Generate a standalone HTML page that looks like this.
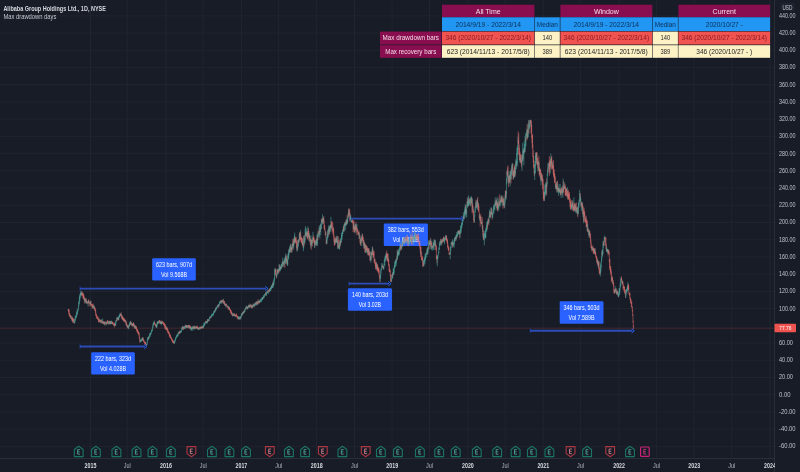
<!DOCTYPE html>
<html><head><meta charset="utf-8"><style>
html,body{margin:0;padding:0;background:#181c27;width:800px;height:472px;overflow:hidden;}
svg{display:block;font-family:"Liberation Sans",sans-serif;will-change:transform;}
</style></head><body>
<svg width="800" height="472" viewBox="0 0 800 472" font-family="Liberation Sans, sans-serif"><rect x="0" y="0" width="800" height="472" fill="#181c27"/>
<path d="M0 15.88H774M0 33.10H774M0 50.32H774M0 67.54H774M0 84.76H774M0 101.98H774M0 119.20H774M0 136.42H774M0 153.64H774M0 170.86H774M0 188.08H774M0 205.30H774M0 222.52H774M0 239.74H774M0 256.96H774M0 274.18H774M0 291.40H774M0 308.62H774M0 343.06H774M0 360.28H774M0 377.50H774M0 394.72H774M0 411.94H774M0 429.16H774M0 446.38H774M90.50 0V458M127.30 0V458M166.00 0V458M203.20 0V458M241.40 0V458M278.70 0V458M316.70 0V458M354.50 0V458M392.20 0V458M429.50 0V458M467.90 0V458M505.30 0V458M543.30 0V458M580.60 0V458M619.10 0V458M656.60 0V458M694.20 0V458M731.80 0V458M770.00 0V458" stroke="#20242f" stroke-width="1" fill="none"/>
<path d="M774.5 0V472M0 458.5H774" stroke="#2a2e39" stroke-width="1" fill="none"/>
<text x="779" y="17.78" font-size="7.0" fill="#c0c3cb" textLength="16.5" lengthAdjust="spacingAndGlyphs">440.00</text>
<text x="779" y="35.0" font-size="7.0" fill="#c0c3cb" textLength="16.5" lengthAdjust="spacingAndGlyphs">420.00</text>
<text x="779" y="52.22" font-size="7.0" fill="#c0c3cb" textLength="16.5" lengthAdjust="spacingAndGlyphs">400.00</text>
<text x="779" y="69.44" font-size="7.0" fill="#c0c3cb" textLength="16.5" lengthAdjust="spacingAndGlyphs">380.00</text>
<text x="779" y="86.66" font-size="7.0" fill="#c0c3cb" textLength="16.5" lengthAdjust="spacingAndGlyphs">360.00</text>
<text x="779" y="103.88" font-size="7.0" fill="#c0c3cb" textLength="16.5" lengthAdjust="spacingAndGlyphs">340.00</text>
<text x="779" y="121.1" font-size="7.0" fill="#c0c3cb" textLength="16.5" lengthAdjust="spacingAndGlyphs">320.00</text>
<text x="779" y="138.32" font-size="7.0" fill="#c0c3cb" textLength="16.5" lengthAdjust="spacingAndGlyphs">300.00</text>
<text x="779" y="155.54" font-size="7.0" fill="#c0c3cb" textLength="16.5" lengthAdjust="spacingAndGlyphs">280.00</text>
<text x="779" y="172.76" font-size="7.0" fill="#c0c3cb" textLength="16.5" lengthAdjust="spacingAndGlyphs">260.00</text>
<text x="779" y="189.98" font-size="7.0" fill="#c0c3cb" textLength="16.5" lengthAdjust="spacingAndGlyphs">240.00</text>
<text x="779" y="207.2" font-size="7.0" fill="#c0c3cb" textLength="16.5" lengthAdjust="spacingAndGlyphs">220.00</text>
<text x="779" y="224.42" font-size="7.0" fill="#c0c3cb" textLength="16.5" lengthAdjust="spacingAndGlyphs">200.00</text>
<text x="779" y="241.64" font-size="7.0" fill="#c0c3cb" textLength="16.5" lengthAdjust="spacingAndGlyphs">180.00</text>
<text x="779" y="258.86" font-size="7.0" fill="#c0c3cb" textLength="16.5" lengthAdjust="spacingAndGlyphs">160.00</text>
<text x="779" y="276.08" font-size="7.0" fill="#c0c3cb" textLength="16.5" lengthAdjust="spacingAndGlyphs">140.00</text>
<text x="779" y="293.3" font-size="7.0" fill="#c0c3cb" textLength="16.5" lengthAdjust="spacingAndGlyphs">120.00</text>
<text x="779" y="310.52" font-size="7.0" fill="#c0c3cb" textLength="16.5" lengthAdjust="spacingAndGlyphs">100.00</text>
<text x="779" y="344.96" font-size="7.0" fill="#c0c3cb" textLength="13.9" lengthAdjust="spacingAndGlyphs">60.00</text>
<text x="779" y="362.18" font-size="7.0" fill="#c0c3cb" textLength="13.9" lengthAdjust="spacingAndGlyphs">40.00</text>
<text x="779" y="379.4" font-size="7.0" fill="#c0c3cb" textLength="13.9" lengthAdjust="spacingAndGlyphs">20.00</text>
<text x="779" y="396.62" font-size="7.0" fill="#c0c3cb" textLength="11.5" lengthAdjust="spacingAndGlyphs">0.00</text>
<text x="779" y="413.84" font-size="7.0" fill="#c0c3cb" textLength="16.5" lengthAdjust="spacingAndGlyphs">-20.00</text>
<text x="779" y="431.06" font-size="7.0" fill="#c0c3cb" textLength="16.5" lengthAdjust="spacingAndGlyphs">-40.00</text>
<text x="779" y="448.28" font-size="7.0" fill="#c0c3cb" textLength="16.5" lengthAdjust="spacingAndGlyphs">-60.00</text>
<rect x="780.2" y="2.6" width="14.6" height="9" rx="1.5" fill="#1f2330"/>
<text x="787.4" y="9.5" font-size="6.3" fill="#c3c6ce" text-anchor="middle" textLength="10" lengthAdjust="spacingAndGlyphs">USD</text>
<text x="90.5" y="467.5" font-size="6.9" fill="#d8dae0" text-anchor="middle" textLength="11.8" lengthAdjust="spacingAndGlyphs" font-weight="bold">2015</text>
<text x="127.3" y="467.5" font-size="6.9" fill="#b2b5be" text-anchor="middle" textLength="7.0" lengthAdjust="spacingAndGlyphs">Jul</text>
<text x="166" y="467.5" font-size="6.9" fill="#d8dae0" text-anchor="middle" textLength="11.8" lengthAdjust="spacingAndGlyphs" font-weight="bold">2016</text>
<text x="203.2" y="467.5" font-size="6.9" fill="#b2b5be" text-anchor="middle" textLength="7.0" lengthAdjust="spacingAndGlyphs">Jul</text>
<text x="241.4" y="467.5" font-size="6.9" fill="#d8dae0" text-anchor="middle" textLength="11.8" lengthAdjust="spacingAndGlyphs" font-weight="bold">2017</text>
<text x="278.7" y="467.5" font-size="6.9" fill="#b2b5be" text-anchor="middle" textLength="7.0" lengthAdjust="spacingAndGlyphs">Jul</text>
<text x="316.7" y="467.5" font-size="6.9" fill="#d8dae0" text-anchor="middle" textLength="11.8" lengthAdjust="spacingAndGlyphs" font-weight="bold">2018</text>
<text x="354.5" y="467.5" font-size="6.9" fill="#b2b5be" text-anchor="middle" textLength="7.0" lengthAdjust="spacingAndGlyphs">Jul</text>
<text x="392.2" y="467.5" font-size="6.9" fill="#d8dae0" text-anchor="middle" textLength="11.8" lengthAdjust="spacingAndGlyphs" font-weight="bold">2019</text>
<text x="429.5" y="467.5" font-size="6.9" fill="#b2b5be" text-anchor="middle" textLength="7.0" lengthAdjust="spacingAndGlyphs">Jul</text>
<text x="467.9" y="467.5" font-size="6.9" fill="#d8dae0" text-anchor="middle" textLength="11.8" lengthAdjust="spacingAndGlyphs" font-weight="bold">2020</text>
<text x="505.3" y="467.5" font-size="6.9" fill="#b2b5be" text-anchor="middle" textLength="7.0" lengthAdjust="spacingAndGlyphs">Jul</text>
<text x="543.3" y="467.5" font-size="6.9" fill="#d8dae0" text-anchor="middle" textLength="11.8" lengthAdjust="spacingAndGlyphs" font-weight="bold">2021</text>
<text x="580.6" y="467.5" font-size="6.9" fill="#b2b5be" text-anchor="middle" textLength="7.0" lengthAdjust="spacingAndGlyphs">Jul</text>
<text x="619.1" y="467.5" font-size="6.9" fill="#d8dae0" text-anchor="middle" textLength="11.8" lengthAdjust="spacingAndGlyphs" font-weight="bold">2022</text>
<text x="656.6" y="467.5" font-size="6.9" fill="#b2b5be" text-anchor="middle" textLength="7.0" lengthAdjust="spacingAndGlyphs">Jul</text>
<text x="694.2" y="467.5" font-size="6.9" fill="#d8dae0" text-anchor="middle" textLength="11.8" lengthAdjust="spacingAndGlyphs" font-weight="bold">2023</text>
<text x="731.8" y="467.5" font-size="6.9" fill="#b2b5be" text-anchor="middle" textLength="7.0" lengthAdjust="spacingAndGlyphs">Jul</text>
<text x="770" y="467.5" font-size="6.9" fill="#d8dae0" text-anchor="middle" textLength="11.8" lengthAdjust="spacingAndGlyphs" font-weight="bold">2024</text>
<rect x="775" y="459" width="25" height="13" fill="#181c27"/>
<text x="3.4" y="10.5" font-size="6.9" fill="#d6d8df" textLength="102.5" lengthAdjust="spacingAndGlyphs" font-weight="bold">Alibaba Group Holdings Ltd., 1D, NYSE</text>
<text x="3.4" y="18.7" font-size="6.9" fill="#c3c6ce" textLength="53" lengthAdjust="spacingAndGlyphs">Max drawdown days</text>
<rect x="442.0" y="4.7" width="92.40" height="12.60" fill="#880e4f"/>
<text x="488.2" y="13.8" font-size="7.0" fill="#f6dbe8" text-anchor="middle">All Time</text>
<rect x="560.4" y="4.7" width="91.90" height="12.60" fill="#880e4f"/>
<text x="606.35" y="13.8" font-size="7.0" fill="#f6dbe8" text-anchor="middle">Window</text>
<rect x="678.4" y="4.7" width="91.70" height="12.60" fill="#880e4f"/>
<text x="724.25" y="13.8" font-size="7.0" fill="#f6dbe8" text-anchor="middle">Current</text>
<rect x="442.0" y="17.3" width="92.40" height="13.80" fill="#2196f3"/>
<rect x="534.9" y="17.3" width="24.90" height="13.80" fill="#2196f3"/>
<rect x="560.4" y="17.3" width="91.90" height="13.80" fill="#2196f3"/>
<rect x="652.8" y="17.3" width="25.10" height="13.80" fill="#2196f3"/>
<rect x="678.4" y="17.3" width="91.70" height="13.80" fill="#2196f3"/>
<text x="488.2" y="26.5" font-size="7.0" fill="#0e2f52" text-anchor="middle" textLength="65.5" lengthAdjust="spacingAndGlyphs">2014/9/19 - 2022/3/14</text>
<text x="547.35" y="26.5" font-size="7.0" fill="#0e2f52" text-anchor="middle" textLength="21" lengthAdjust="spacingAndGlyphs">Median</text>
<text x="606.35" y="26.5" font-size="7.0" fill="#0e2f52" text-anchor="middle" textLength="65.5" lengthAdjust="spacingAndGlyphs">2014/9/19 - 2022/3/14</text>
<text x="665.35" y="26.5" font-size="7.0" fill="#0e2f52" text-anchor="middle" textLength="21" lengthAdjust="spacingAndGlyphs">Median</text>
<text x="724.25" y="26.5" font-size="7.0" fill="#0e2f52" text-anchor="middle" textLength="37" lengthAdjust="spacingAndGlyphs">2020/10/27 -</text>
<rect x="380.0" y="31.6" width="61.50" height="12.90" fill="#880e4f"/>
<text x="410.75" y="40.35" font-size="7.0" fill="#f6dbe8" text-anchor="middle" textLength="56.5" lengthAdjust="spacingAndGlyphs">Max drawdown bars</text>
<rect x="442.0" y="31.6" width="92.40" height="12.90" fill="#f05350"/>
<rect x="560.4" y="31.6" width="91.90" height="12.90" fill="#f05350"/>
<rect x="678.4" y="31.6" width="91.70" height="12.90" fill="#f05350"/>
<rect x="534.9" y="31.6" width="24.90" height="12.90" fill="#fdf1c6"/>
<rect x="652.8" y="31.6" width="25.10" height="12.90" fill="#fdf1c6"/>
<text x="488.2" y="40.35" font-size="7.0" fill="#8a1c24" text-anchor="middle" textLength="85.5" lengthAdjust="spacingAndGlyphs">346 (2020/10/27 - 2022/3/14)</text>
<text x="606.35" y="40.35" font-size="7.0" fill="#8a1c24" text-anchor="middle" textLength="85.5" lengthAdjust="spacingAndGlyphs">346 (2020/10/27 - 2022/3/14)</text>
<text x="724.25" y="40.35" font-size="7.0" fill="#8a1c24" text-anchor="middle" textLength="85.5" lengthAdjust="spacingAndGlyphs">346 (2020/10/27 - 2022/3/14)</text>
<text x="547.35" y="40.35" font-size="7.0" fill="#252525" text-anchor="middle" textLength="9.6" lengthAdjust="spacingAndGlyphs">140</text>
<text x="665.35" y="40.35" font-size="7.0" fill="#252525" text-anchor="middle" textLength="9.6" lengthAdjust="spacingAndGlyphs">140</text>
<rect x="380.0" y="45.2" width="61.50" height="12.60" fill="#880e4f"/>
<text x="410.75" y="53.8" font-size="7.0" fill="#f6dbe8" text-anchor="middle" textLength="51" lengthAdjust="spacingAndGlyphs">Max recovery bars</text>
<rect x="442.0" y="45.2" width="92.40" height="12.60" fill="#fdf1c6"/>
<rect x="534.9" y="45.2" width="24.90" height="12.60" fill="#fdf1c6"/>
<rect x="560.4" y="45.2" width="91.90" height="12.60" fill="#fdf1c6"/>
<rect x="652.8" y="45.2" width="25.10" height="12.60" fill="#fdf1c6"/>
<rect x="678.4" y="45.2" width="91.70" height="12.60" fill="#fdf1c6"/>
<text x="488.2" y="53.8" font-size="7.0" fill="#252525" text-anchor="middle" textLength="83" lengthAdjust="spacingAndGlyphs">623 (2014/11/13 - 2017/5/8)</text>
<text x="547.35" y="53.8" font-size="7.0" fill="#252525" text-anchor="middle" textLength="9.6" lengthAdjust="spacingAndGlyphs">389</text>
<text x="606.35" y="53.8" font-size="7.0" fill="#252525" text-anchor="middle" textLength="83" lengthAdjust="spacingAndGlyphs">623 (2014/11/13 - 2017/5/8)</text>
<text x="665.35" y="53.8" font-size="7.0" fill="#252525" text-anchor="middle" textLength="9.6" lengthAdjust="spacingAndGlyphs">389</text>
<text x="724.25" y="53.8" font-size="7.0" fill="#252525" text-anchor="middle" textLength="56" lengthAdjust="spacingAndGlyphs">346 (2020/10/27 - )</text>
<path d="M80 288.6H266" stroke="#2c4cb8" stroke-width="1.9" fill="none"/><path d="M265.4 286.40000000000003L268 288.6L265.4 290.8" stroke="#2962ff" stroke-width="1.0" fill="none"/><path d="M80 286.40000000000003V290.8" stroke="#2962ff" stroke-opacity="0.6" stroke-width="0.8" fill="none"/>
<rect x="152.2" y="258.2" width="43.60" height="22.30" rx="1.2" fill="#2962ff"/><text x="174.0" y="266.8" font-size="6.5" fill="#ffffff" text-anchor="middle" textLength="36" lengthAdjust="spacingAndGlyphs">623 bars, 907d</text><text x="174.0" y="276.7" font-size="6.5" fill="#ffffff" text-anchor="middle" textLength="26" lengthAdjust="spacingAndGlyphs">Vol 9.568B</text>
<path d="M80 346.5H145" stroke="#2c4cb8" stroke-width="1.9" fill="none"/><path d="M144.4 344.3L147 346.5L144.4 348.7" stroke="#2962ff" stroke-width="1.0" fill="none"/><path d="M80 344.3V348.7" stroke="#2962ff" stroke-opacity="0.6" stroke-width="0.8" fill="none"/>
<rect x="91.2" y="352.2" width="43.60" height="22.30" rx="1.2" fill="#2962ff"/><text x="113.0" y="360.8" font-size="6.5" fill="#ffffff" text-anchor="middle" textLength="36" lengthAdjust="spacingAndGlyphs">222 bars, 323d</text><text x="113.0" y="370.7" font-size="6.5" fill="#ffffff" text-anchor="middle" textLength="26" lengthAdjust="spacingAndGlyphs">Vol 4.028B</text>
<path d="M350 218.6H462" stroke="#2c4cb8" stroke-width="1.9" fill="none"/><path d="M461.4 216.4L464 218.6L461.4 220.79999999999998" stroke="#2962ff" stroke-width="1.0" fill="none"/><path d="M350 216.4V220.79999999999998" stroke="#2962ff" stroke-opacity="0.6" stroke-width="0.8" fill="none"/>
<rect x="383.8" y="223.5" width="44.10" height="22.40" rx="1.2" fill="#2962ff"/><text x="405.85" y="232.1" font-size="6.5" fill="#ffffff" text-anchor="middle" textLength="36" lengthAdjust="spacingAndGlyphs">382 bars, 553d</text><text x="405.85" y="242.0" font-size="6.5" fill="#ffffff" text-anchor="middle" textLength="26" lengthAdjust="spacingAndGlyphs">Vol 6.471B</text>
<path d="M349 283.6H389" stroke="#2c4cb8" stroke-width="1.9" fill="none"/><path d="M388.4 281.40000000000003L391 283.6L388.4 285.8" stroke="#2962ff" stroke-width="1.0" fill="none"/><path d="M349 281.40000000000003V285.8" stroke="#2962ff" stroke-opacity="0.6" stroke-width="0.8" fill="none"/>
<rect x="347.9" y="288.2" width="44.10" height="22.60" rx="1.2" fill="#2962ff"/><text x="369.95" y="296.8" font-size="6.5" fill="#ffffff" text-anchor="middle" textLength="36" lengthAdjust="spacingAndGlyphs">140 bars, 203d</text><text x="369.95" y="306.7" font-size="6.5" fill="#ffffff" text-anchor="middle" textLength="22.3" lengthAdjust="spacingAndGlyphs">Vol 3.02B</text>
<path d="M530.2 330.7H632.3" stroke="#2c4cb8" stroke-width="1.9" fill="none"/><path d="M631.6999999999999 328.5L634.3 330.7L631.6999999999999 332.9" stroke="#2962ff" stroke-width="1.0" fill="none"/><path d="M530.2 328.5V332.9" stroke="#2962ff" stroke-opacity="0.6" stroke-width="0.8" fill="none"/>
<rect x="559.7" y="301.25" width="43.80" height="22.50" rx="1.2" fill="#2962ff"/><text x="581.6" y="309.85" font-size="6.5" fill="#ffffff" text-anchor="middle" textLength="36" lengthAdjust="spacingAndGlyphs">346 bars, 503d</text><text x="581.6" y="319.75" font-size="6.5" fill="#ffffff" text-anchor="middle" textLength="26" lengthAdjust="spacingAndGlyphs">Vol 7.589B</text>
<path d="M0 328.2H774" stroke="#ef5350" stroke-opacity="0.2" stroke-width="1" fill="none"/>
<g stroke-width="0.5" fill="none"><path d="M68.20 309.01V310.47" stroke="#55b5aa"/><path d="M68.50 309.09V312.17M68.80 308.79V313.53M69.10 309.85V315.03M69.40 312.98V316.02M69.70 312.91V316.94M70.00 315.27V316.35M70.30 314.59V317.32" stroke="#ee7572"/><path d="M70.60 315.70V318.32" stroke="#55b5aa"/><path d="M70.90 315.34V318.05M71.20 315.90V319.12M71.50 317.70V319.03M71.80 317.74V320.44" stroke="#ee7572"/><path d="M72.09 316.50V320.92" stroke="#55b5aa"/><path d="M72.39 316.77V322.66M72.69 318.49V321.11M72.99 318.07V321.31M73.29 318.58V322.36" stroke="#ee7572"/><path d="M73.59 319.51V323.00" stroke="#55b5aa"/><path d="M73.89 318.53V322.83M74.19 321.75V323.53" stroke="#ee7572"/><path d="M74.49 320.49V323.53M74.79 318.93V321.14M75.09 317.70V322.36M75.39 316.04V320.27M75.69 315.76V317.94M75.99 314.91V317.49M76.29 314.34V316.18M76.59 311.51V318.02M76.89 312.30V314.53M77.19 309.10V313.38M77.49 310.42V315.07M77.79 309.96V311.81M78.09 308.18V310.56M78.39 305.33V310.07M78.69 301.60V307.37M78.99 301.42V305.41M79.29 297.71V304.01M79.58 295.79V301.72M79.88 294.15V300.46M80.18 293.34V298.12M80.48 293.05V295.55M80.78 290.66V295.11M81.08 292.19V296.55" stroke="#55b5aa"/><path d="M81.38 292.33V294.70M81.68 291.43V295.55" stroke="#ee7572"/><path d="M81.98 291.39V295.04" stroke="#55b5aa"/><path d="M82.28 293.44V295.43M82.58 292.42V295.93M82.88 293.16V298.54M83.18 293.88V296.67M83.48 293.36V298.50M83.78 295.93V299.31M84.08 295.40V300.27M84.38 297.51V303.53" stroke="#ee7572"/><path d="M84.68 298.55V301.85" stroke="#55b5aa"/><path d="M84.98 298.36V300.76" stroke="#ee7572"/><path d="M85.28 298.14V301.84" stroke="#55b5aa"/><path d="M85.58 299.54V302.40" stroke="#ee7572"/><path d="M85.88 298.63V303.80" stroke="#55b5aa"/><path d="M86.18 298.00V302.79M86.48 300.53V303.76" stroke="#ee7572"/><path d="M86.78 301.36V303.03" stroke="#55b5aa"/><path d="M87.07 301.20V302.89" stroke="#ee7572"/><path d="M87.37 302.05V303.08" stroke="#55b5aa"/><path d="M87.67 301.95V303.79" stroke="#ee7572"/><path d="M87.97 300.50V306.53M88.27 300.44V302.73" stroke="#55b5aa"/><path d="M88.57 299.29V303.24M88.87 300.18V303.49M89.17 302.04V306.48" stroke="#ee7572"/><path d="M89.47 302.21V303.55" stroke="#55b5aa"/><path d="M89.77 302.34V303.51" stroke="#ee7572"/><path d="M90.07 300.86V303.95" stroke="#55b5aa"/><path d="M90.37 302.27V305.58" stroke="#ee7572"/><path d="M90.67 301.03V304.80" stroke="#55b5aa"/><path d="M90.97 300.55V305.94M91.27 303.50V306.93" stroke="#ee7572"/><path d="M91.57 304.24V304.94" stroke="#55b5aa"/><path d="M91.87 303.93V305.70M92.17 304.65V309.20M92.47 304.07V307.10M92.77 305.84V307.28" stroke="#ee7572"/><path d="M93.07 305.41V308.34" stroke="#55b5aa"/><path d="M93.37 303.57V308.26" stroke="#ee7572"/><path d="M93.67 306.12V308.37" stroke="#55b5aa"/><path d="M93.97 306.08V308.68" stroke="#ee7572"/><path d="M94.27 305.57V308.82" stroke="#55b5aa"/><path d="M94.56 307.30V309.52M94.86 307.76V311.07M95.16 307.73V310.83M95.46 309.42V313.39M95.76 310.47V315.97M96.06 313.38V315.16M96.36 314.10V317.27M96.66 314.73V318.43M96.96 316.72V318.17M97.26 315.92V318.84M97.56 317.77V319.47M97.86 317.30V319.34M98.16 316.76V319.70M98.46 318.27V322.22M98.76 319.09V321.96M99.06 319.27V322.41" stroke="#ee7572"/><path d="M99.36 318.55V322.20" stroke="#55b5aa"/><path d="M99.66 319.92V321.17M99.96 319.51V322.40M100.26 320.16V321.32M100.56 319.74V322.72" stroke="#ee7572"/><path d="M100.86 320.85V323.39M101.16 320.52V321.44M101.46 319.21V321.89" stroke="#55b5aa"/><path d="M101.76 320.23V323.41M102.05 320.38V323.31" stroke="#ee7572"/><path d="M102.35 321.94V322.98M102.65 318.49V323.39" stroke="#55b5aa"/><path d="M102.95 321.12V323.45M103.25 321.22V323.51" stroke="#ee7572"/><path d="M103.55 321.77V324.24" stroke="#55b5aa"/><path d="M103.85 321.46V324.25M104.15 323.09V324.15" stroke="#ee7572"/><path d="M104.45 321.98V325.18" stroke="#55b5aa"/><path d="M104.75 321.24V323.46M105.05 321.84V325.72" stroke="#ee7572"/><path d="M105.35 322.04V323.94M105.65 321.56V323.37" stroke="#55b5aa"/><path d="M105.95 322.39V323.67M106.25 321.43V324.59" stroke="#ee7572"/><path d="M106.55 323.11V325.26M106.85 321.60V324.16" stroke="#55b5aa"/><path d="M107.15 321.84V323.51M107.45 319.98V323.38M107.75 320.46V323.31" stroke="#ee7572"/><path d="M108.05 322.03V324.33" stroke="#55b5aa"/><path d="M108.35 322.15V324.79" stroke="#ee7572"/><path d="M108.65 321.09V323.65M108.95 320.93V322.48" stroke="#55b5aa"/><path d="M109.25 320.72V323.21" stroke="#ee7572"/><path d="M109.54 321.35V323.95" stroke="#55b5aa"/><path d="M109.84 320.88V324.46" stroke="#ee7572"/><path d="M110.14 322.51V324.59" stroke="#55b5aa"/><path d="M110.44 321.18V324.03" stroke="#ee7572"/><path d="M110.74 320.96V323.81" stroke="#55b5aa"/><path d="M111.04 321.27V324.01" stroke="#ee7572"/><path d="M111.34 320.38V324.17M111.64 321.76V323.78M111.94 321.59V323.82" stroke="#55b5aa"/><path d="M112.24 321.50V323.33M112.54 322.13V323.88M112.84 322.09V324.74M113.14 322.36V324.69M113.44 323.88V325.39" stroke="#ee7572"/><path d="M113.74 323.85V325.01" stroke="#55b5aa"/><path d="M114.04 323.87V325.37M114.34 323.07V327.39M114.64 322.61V325.95M114.94 324.31V326.12" stroke="#ee7572"/><path d="M115.24 324.25V326.03M115.54 321.82V325.85M115.84 320.48V325.04M116.14 319.94V322.44" stroke="#55b5aa"/><path d="M116.44 319.82V320.73" stroke="#ee7572"/><path d="M116.74 317.40V320.94" stroke="#55b5aa"/><path d="M117.03 317.74V321.22" stroke="#ee7572"/><path d="M117.33 317.37V319.18" stroke="#55b5aa"/><path d="M117.63 317.79V319.99" stroke="#ee7572"/><path d="M117.93 316.79V320.12M118.23 317.49V319.69" stroke="#55b5aa"/><path d="M118.53 317.43V320.47" stroke="#ee7572"/><path d="M118.83 316.29V319.97M119.13 314.74V317.88M119.43 315.04V317.57M119.73 314.63V317.11M120.03 312.71V315.74M120.33 313.66V315.87" stroke="#55b5aa"/><path d="M120.63 313.87V315.19M120.93 313.69V316.36M121.23 312.44V317.58" stroke="#ee7572"/><path d="M121.53 314.40V316.23" stroke="#55b5aa"/><path d="M121.83 315.02V319.09M122.13 316.25V319.25M122.43 315.73V319.46M122.73 317.21V320.24" stroke="#ee7572"/><path d="M123.03 316.92V320.09" stroke="#55b5aa"/><path d="M123.33 317.68V320.22M123.63 317.96V321.57M123.93 318.43V321.61" stroke="#ee7572"/><path d="M124.23 319.92V321.28" stroke="#55b5aa"/><path d="M124.52 318.53V321.15M124.82 318.85V322.02M125.12 320.02V322.57" stroke="#ee7572"/><path d="M125.42 320.11V322.34" stroke="#55b5aa"/><path d="M125.72 320.51V323.08M126.02 320.82V325.32" stroke="#ee7572"/><path d="M126.32 322.38V325.41" stroke="#55b5aa"/><path d="M126.62 322.23V325.68M126.92 324.06V327.14M127.22 324.73V326.63M127.52 325.39V328.13" stroke="#ee7572"/><path d="M127.82 325.40V328.17M128.12 326.12V328.30" stroke="#55b5aa"/><path d="M128.42 325.40V328.38" stroke="#ee7572"/><path d="M128.72 325.84V329.43M129.02 324.46V327.07" stroke="#55b5aa"/><path d="M129.32 324.42V326.24" stroke="#ee7572"/><path d="M129.62 322.62V326.06M129.92 321.81V325.32M130.22 322.21V325.07" stroke="#55b5aa"/><path d="M130.52 320.84V324.91" stroke="#ee7572"/><path d="M130.82 321.43V324.38M131.12 321.80V324.53" stroke="#55b5aa"/><path d="M131.42 322.87V324.49M131.72 323.37V325.71M132.01 322.72V326.20" stroke="#ee7572"/><path d="M132.31 323.73V326.20" stroke="#55b5aa"/><path d="M132.61 323.77V326.45" stroke="#ee7572"/><path d="M132.91 323.18V325.80M133.21 323.64V326.56" stroke="#55b5aa"/><path d="M133.51 322.04V325.43M133.81 323.22V326.17M134.11 324.49V327.64" stroke="#ee7572"/><path d="M134.41 324.18V328.18" stroke="#55b5aa"/><path d="M134.71 325.33V326.92M135.01 325.56V328.91" stroke="#ee7572"/><path d="M135.31 325.88V328.71" stroke="#55b5aa"/><path d="M135.61 325.61V329.18" stroke="#ee7572"/><path d="M135.91 326.55V328.61" stroke="#55b5aa"/><path d="M136.21 325.90V328.98M136.51 327.04V329.91M136.81 328.65V331.90M137.11 328.90V331.28M137.41 329.17V331.98M137.71 329.85V333.72M138.01 330.87V332.84M138.31 331.84V333.58M138.61 331.72V334.33M138.91 332.24V335.88M139.21 333.12V338.58M139.50 336.32V340.52M139.80 339.75V342.44M140.10 340.91V342.12" stroke="#ee7572"/><path d="M140.40 340.39V342.59M140.70 338.59V341.56M141.00 339.89V341.06M141.30 339.94V340.88M141.60 339.01V341.61M141.90 337.91V341.19" stroke="#55b5aa"/><path d="M142.20 337.71V340.36" stroke="#ee7572"/><path d="M142.50 337.32V340.44M142.80 338.03V339.84" stroke="#55b5aa"/><path d="M143.10 336.99V340.68M143.40 338.91V341.39M143.70 339.75V341.92M144.00 340.05V341.48M144.30 340.93V343.38M144.60 341.97V343.28M144.90 342.04V343.92M145.20 342.48V344.15M145.50 341.57V344.92M145.80 343.29V344.20M146.10 344.23V344.63M146.40 344.06V345.25" stroke="#ee7572"/><path d="M146.70 343.93V345.31M146.99 342.00V345.43M147.29 339.65V343.72M147.59 337.42V341.52M147.89 337.09V340.14M148.19 337.82V338.61M148.49 336.75V340.06" stroke="#55b5aa"/><path d="M148.79 336.33V338.62" stroke="#ee7572"/><path d="M149.09 336.12V338.89M149.39 335.21V337.56M149.69 333.18V336.41M149.99 333.68V335.50M150.29 332.86V336.76M150.59 332.76V334.74M150.89 332.93V334.41M151.19 330.92V333.67M151.49 330.20V332.67M151.79 329.66V331.35M152.09 329.16V330.84M152.39 327.42V331.27M152.69 325.65V328.70M152.99 323.88V327.57M153.29 322.84V325.90M153.59 322.47V324.74M153.89 321.91V324.28M154.19 320.41V323.85" stroke="#55b5aa"/><path d="M154.48 321.64V324.59M154.78 322.90V324.10M155.08 323.35V325.46M155.38 323.96V325.52" stroke="#ee7572"/><path d="M155.68 324.38V326.54" stroke="#55b5aa"/><path d="M155.98 324.15V327.41M156.28 324.83V327.01" stroke="#ee7572"/><path d="M156.58 324.22V327.86M156.88 323.25V328.03M157.18 321.17V325.82M157.48 321.67V323.93" stroke="#55b5aa"/><path d="M157.78 321.94V323.68" stroke="#ee7572"/><path d="M158.08 321.78V324.16M158.38 321.44V323.08M158.68 320.98V323.44M158.98 320.02V322.85" stroke="#55b5aa"/><path d="M159.28 320.22V322.39M159.58 320.32V322.38M159.88 320.71V323.73M160.18 321.38V323.87" stroke="#ee7572"/><path d="M160.48 321.29V324.03M160.78 321.50V324.08" stroke="#55b5aa"/><path d="M161.08 320.40V323.98" stroke="#ee7572"/><path d="M161.38 321.80V325.39M161.68 321.98V323.56" stroke="#55b5aa"/><path d="M161.97 320.86V323.99" stroke="#ee7572"/><path d="M162.27 320.91V323.84" stroke="#55b5aa"/><path d="M162.57 321.90V322.93M162.87 321.60V323.58M163.17 322.08V323.31M163.47 321.92V324.42M163.77 322.80V325.14M164.07 323.61V325.72M164.37 322.91V325.50M164.67 324.22V328.60M164.97 324.10V326.88M165.27 324.50V328.31M165.57 325.87V329.04M165.87 327.64V330.05M166.17 328.08V329.56" stroke="#ee7572"/><path d="M166.47 326.13V330.07" stroke="#55b5aa"/><path d="M166.77 328.11V330.15M167.07 326.90V330.15M167.37 328.13V331.81M167.67 330.00V332.14M167.97 329.36V333.21M168.27 331.51V333.41M168.57 331.25V333.43M168.87 331.98V333.83M169.17 332.44V335.53M169.46 332.87V336.52M169.76 334.64V336.69M170.06 333.97V338.01M170.36 335.07V337.81M170.66 336.22V338.09M170.96 336.98V338.94M171.26 336.94V339.23M171.56 338.13V340.06M171.86 338.94V340.71M172.16 339.57V341.59M172.46 338.81V342.24M172.76 340.61V342.56M173.06 340.86V342.50M173.36 340.49V343.21M173.66 341.65V343.31M173.96 341.77V343.57" stroke="#ee7572"/><path d="M174.26 341.22V343.77M174.56 340.50V343.50M174.86 340.19V342.31M175.16 339.21V341.31M175.46 337.54V340.70M175.76 337.44V339.46M176.06 336.88V338.88M176.36 336.00V337.61M176.66 335.32V337.64M176.95 334.67V336.77M177.25 334.32V336.07M177.55 334.63V336.84M177.85 333.09V336.45" stroke="#55b5aa"/><path d="M178.15 333.60V334.43" stroke="#ee7572"/><path d="M178.45 331.78V335.47M178.75 332.34V333.95" stroke="#55b5aa"/><path d="M179.05 331.41V333.23" stroke="#ee7572"/><path d="M179.35 331.82V333.85" stroke="#55b5aa"/><path d="M179.65 330.68V333.97M179.95 331.41V332.74" stroke="#ee7572"/><path d="M180.25 330.98V333.11M180.55 331.14V332.32M180.85 330.50V333.25M181.15 329.98V332.13M181.45 329.40V331.72M181.75 327.51V329.96M182.05 327.51V329.18M182.35 325.91V329.54" stroke="#55b5aa"/><path d="M182.65 326.61V329.05M182.95 327.49V329.96" stroke="#ee7572"/><path d="M183.25 326.12V330.28" stroke="#55b5aa"/><path d="M183.55 327.02V328.40M183.85 327.52V328.91" stroke="#ee7572"/><path d="M184.15 325.98V328.82" stroke="#55b5aa"/><path d="M184.44 327.09V328.85" stroke="#ee7572"/><path d="M184.74 326.24V328.73M185.04 326.05V327.58M185.34 324.50V328.51" stroke="#55b5aa"/><path d="M185.64 325.06V327.04" stroke="#ee7572"/><path d="M185.94 325.39V327.60" stroke="#55b5aa"/><path d="M186.24 325.03V327.71M186.54 325.28V327.75" stroke="#ee7572"/><path d="M186.84 325.51V328.47" stroke="#55b5aa"/><path d="M187.14 325.92V327.77M187.44 325.58V327.21" stroke="#ee7572"/><path d="M187.74 325.22V327.84M188.04 325.38V328.11" stroke="#55b5aa"/><path d="M188.34 325.44V326.61M188.64 325.13V327.75M188.94 325.08V328.23" stroke="#ee7572"/><path d="M189.24 325.58V328.37" stroke="#55b5aa"/><path d="M189.54 324.84V328.70" stroke="#ee7572"/><path d="M189.84 326.24V328.40" stroke="#55b5aa"/><path d="M190.14 325.58V327.86M190.44 326.16V328.78M190.74 327.17V329.71" stroke="#ee7572"/><path d="M191.04 327.90V330.13M191.34 327.83V330.87M191.64 326.46V329.34M191.93 327.07V329.39M192.23 326.04V328.67" stroke="#55b5aa"/><path d="M192.53 327.30V329.10" stroke="#ee7572"/><path d="M192.83 327.39V330.88M193.13 326.74V328.21" stroke="#55b5aa"/><path d="M193.43 326.46V328.48" stroke="#ee7572"/><path d="M193.73 325.83V329.31" stroke="#55b5aa"/><path d="M194.03 325.34V328.95M194.33 326.13V328.91" stroke="#ee7572"/><path d="M194.63 327.00V329.68M194.93 326.64V328.16" stroke="#55b5aa"/><path d="M195.23 326.78V328.52M195.53 326.53V328.17" stroke="#ee7572"/><path d="M195.83 326.69V328.72M196.13 325.54V329.14" stroke="#55b5aa"/><path d="M196.43 326.41V327.90M196.73 326.69V328.78" stroke="#ee7572"/><path d="M197.03 326.71V328.46" stroke="#55b5aa"/><path d="M197.33 325.70V328.18M197.63 326.69V329.19M197.93 327.27V329.56" stroke="#ee7572"/><path d="M198.23 328.13V330.00M198.53 328.04V329.99" stroke="#55b5aa"/><path d="M198.83 326.95V328.87M199.13 327.74V329.30M199.42 327.67V329.39" stroke="#ee7572"/><path d="M199.72 326.56V328.83M200.02 326.91V329.89" stroke="#55b5aa"/><path d="M200.32 326.70V328.16M200.62 327.19V328.47M200.92 327.32V328.82M201.22 326.21V328.34" stroke="#ee7572"/><path d="M201.52 327.09V328.82M201.82 325.51V328.43" stroke="#55b5aa"/><path d="M202.12 325.76V328.35M202.42 326.88V327.92" stroke="#ee7572"/><path d="M202.72 326.79V327.90" stroke="#55b5aa"/><path d="M203.02 326.44V328.78" stroke="#ee7572"/><path d="M203.32 324.89V328.19M203.62 324.58V327.41M203.92 323.10V326.84M204.22 322.22V325.40M204.52 323.99V325.43M204.82 323.18V325.45M205.12 322.03V324.20" stroke="#55b5aa"/><path d="M205.42 321.92V322.87M205.72 320.56V323.22" stroke="#ee7572"/><path d="M206.02 321.16V323.42M206.32 321.08V323.15" stroke="#55b5aa"/><path d="M206.62 321.17V323.00" stroke="#ee7572"/><path d="M206.91 321.51V323.86M207.21 320.27V323.08M207.51 319.02V322.48" stroke="#55b5aa"/><path d="M207.81 319.24V321.36M208.11 319.13V320.77" stroke="#ee7572"/><path d="M208.41 319.74V321.45M208.71 319.00V321.16" stroke="#55b5aa"/><path d="M209.01 319.86V321.18" stroke="#ee7572"/><path d="M209.31 317.52V320.72M209.61 317.68V319.17M209.91 316.34V318.63" stroke="#55b5aa"/><path d="M210.21 317.01V317.97" stroke="#ee7572"/><path d="M210.51 316.60V317.90" stroke="#55b5aa"/><path d="M210.81 316.23V318.40" stroke="#ee7572"/><path d="M211.11 315.34V317.58M211.41 315.59V317.32M211.71 313.89V316.41M212.01 314.56V316.36M212.31 313.90V315.58M212.61 314.24V315.23M212.91 313.68V316.05M213.21 312.63V314.80M213.51 312.38V315.16M213.81 311.29V313.88M214.11 310.61V312.52M214.40 310.52V312.91" stroke="#55b5aa"/><path d="M214.70 310.26V311.57" stroke="#ee7572"/><path d="M215.00 309.96V312.41M215.30 309.06V311.29M215.60 307.92V311.21" stroke="#55b5aa"/><path d="M215.90 307.27V310.20" stroke="#ee7572"/><path d="M216.20 307.29V310.26M216.50 307.24V308.88M216.80 306.70V308.39M217.10 306.45V308.39M217.40 305.22V307.28" stroke="#55b5aa"/><path d="M217.70 305.28V306.88" stroke="#ee7572"/><path d="M218.00 304.60V307.10M218.30 304.54V305.78" stroke="#55b5aa"/><path d="M218.60 303.85V307.75" stroke="#ee7572"/><path d="M218.90 304.54V306.22M219.20 303.69V306.32M219.50 301.83V304.62M219.80 302.23V304.01M220.10 300.55V302.95M220.40 300.77V303.70" stroke="#55b5aa"/><path d="M220.70 300.70V302.88" stroke="#ee7572"/><path d="M221.00 301.05V303.23" stroke="#55b5aa"/><path d="M221.30 300.39V302.27M221.60 300.53V302.39" stroke="#ee7572"/><path d="M221.89 299.72V303.83" stroke="#55b5aa"/><path d="M222.19 300.04V302.29" stroke="#ee7572"/><path d="M222.49 300.40V302.13" stroke="#55b5aa"/><path d="M222.79 300.60V302.48" stroke="#ee7572"/><path d="M223.09 298.85V302.15" stroke="#55b5aa"/><path d="M223.39 299.17V302.80M223.69 301.30V303.99" stroke="#ee7572"/><path d="M223.99 301.65V303.80" stroke="#55b5aa"/><path d="M224.29 301.08V303.65M224.59 301.13V305.23" stroke="#ee7572"/><path d="M224.89 303.64V305.68" stroke="#55b5aa"/><path d="M225.19 303.16V305.74M225.49 303.92V305.51" stroke="#ee7572"/><path d="M225.79 304.58V307.38M226.09 303.27V305.79" stroke="#55b5aa"/><path d="M226.39 304.43V306.06M226.69 304.07V306.07M226.99 305.43V307.98" stroke="#ee7572"/><path d="M227.29 305.32V307.22" stroke="#55b5aa"/><path d="M227.59 305.92V307.09M227.89 306.01V307.50M228.19 307.04V309.84" stroke="#ee7572"/><path d="M228.49 306.15V309.25M228.79 306.61V308.45" stroke="#55b5aa"/><path d="M229.09 306.88V309.63M229.38 307.04V309.86M229.68 308.16V310.30M229.98 308.79V310.31M230.28 309.40V313.09M230.58 309.65V311.62M230.88 310.44V312.69M231.18 310.23V314.01M231.48 311.84V314.24M231.78 311.57V314.73M232.08 312.82V315.54M232.38 314.17V315.56" stroke="#ee7572"/><path d="M232.68 312.84V316.61" stroke="#55b5aa"/><path d="M232.98 314.37V315.78" stroke="#ee7572"/><path d="M233.28 314.37V316.11" stroke="#55b5aa"/><path d="M233.58 313.67V316.03" stroke="#ee7572"/><path d="M233.88 313.07V315.84" stroke="#55b5aa"/><path d="M234.18 313.20V316.06M234.48 314.32V315.82M234.78 314.30V316.48" stroke="#ee7572"/><path d="M235.08 314.66V316.31M235.38 314.95V317.00" stroke="#55b5aa"/><path d="M235.68 314.40V316.22M235.98 314.85V316.73M236.28 313.42V315.75M236.58 313.94V316.45M236.87 315.43V316.94M237.17 315.56V318.96M237.47 316.45V317.86M237.77 316.33V318.28M238.07 316.37V319.38" stroke="#ee7572"/><path d="M238.37 317.06V319.58M238.67 316.23V318.82M238.97 317.25V318.50" stroke="#55b5aa"/><path d="M239.27 316.91V319.93" stroke="#ee7572"/><path d="M239.57 317.18V319.31M239.87 316.45V318.40M240.17 316.41V318.01" stroke="#55b5aa"/><path d="M240.47 316.64V318.95" stroke="#ee7572"/><path d="M240.77 316.87V319.79M241.07 315.48V317.80M241.37 314.03V316.81M241.67 312.98V316.43" stroke="#55b5aa"/><path d="M241.97 313.30V315.44" stroke="#ee7572"/><path d="M242.27 313.35V315.43M242.57 311.89V314.61M242.87 312.24V313.83" stroke="#55b5aa"/><path d="M243.17 311.48V314.28" stroke="#ee7572"/><path d="M243.47 311.49V313.25" stroke="#55b5aa"/><path d="M243.77 310.65V313.06" stroke="#ee7572"/><path d="M244.07 311.11V313.18M244.36 309.53V312.77" stroke="#55b5aa"/><path d="M244.66 310.24V311.58" stroke="#ee7572"/><path d="M244.96 309.26V311.96M245.26 307.65V310.39" stroke="#55b5aa"/><path d="M245.56 307.79V309.30" stroke="#ee7572"/><path d="M245.86 307.37V309.95M246.16 305.80V308.91M246.46 305.88V307.72" stroke="#55b5aa"/><path d="M246.76 307.16V308.47M247.06 306.59V308.60M247.36 306.63V309.50" stroke="#ee7572"/><path d="M247.66 306.77V309.22M247.96 306.64V308.58M248.26 305.53V308.07M248.56 305.03V307.09M248.86 305.13V307.45" stroke="#55b5aa"/><path d="M249.16 303.67V307.29M249.46 305.20V307.35M249.76 305.30V307.40" stroke="#ee7572"/><path d="M250.06 305.55V307.36M250.36 303.89V306.79" stroke="#55b5aa"/><path d="M250.66 304.86V306.87M250.96 304.67V307.80" stroke="#ee7572"/><path d="M251.26 305.76V307.50" stroke="#55b5aa"/><path d="M251.56 304.82V308.49" stroke="#ee7572"/><path d="M251.85 305.90V307.45M252.15 304.30V307.30" stroke="#55b5aa"/><path d="M252.45 304.85V308.37" stroke="#ee7572"/><path d="M252.75 305.44V307.70" stroke="#55b5aa"/><path d="M253.05 305.10V306.07" stroke="#ee7572"/><path d="M253.35 303.75V306.58M253.65 304.57V306.67" stroke="#55b5aa"/><path d="M253.95 303.06V305.72M254.25 304.42V307.46" stroke="#ee7572"/><path d="M254.55 304.48V306.11M254.85 303.77V306.16M255.15 302.63V305.38M255.45 302.20V304.57" stroke="#55b5aa"/><path d="M255.75 302.21V304.67" stroke="#ee7572"/><path d="M256.05 303.78V305.85M256.35 301.81V304.53" stroke="#55b5aa"/><path d="M256.65 301.57V304.28" stroke="#ee7572"/><path d="M256.95 301.15V304.92" stroke="#55b5aa"/><path d="M257.25 301.20V304.30M257.55 302.25V305.14" stroke="#ee7572"/><path d="M257.85 301.44V304.10" stroke="#55b5aa"/><path d="M258.15 299.06V303.24" stroke="#ee7572"/><path d="M258.45 300.26V302.82" stroke="#55b5aa"/><path d="M258.75 301.10V303.95" stroke="#ee7572"/><path d="M259.05 301.02V302.58" stroke="#55b5aa"/><path d="M259.34 301.35V303.28" stroke="#ee7572"/><path d="M259.64 300.00V302.63" stroke="#55b5aa"/><path d="M259.94 300.52V302.31" stroke="#ee7572"/><path d="M260.24 300.72V302.58M260.54 299.23V302.01M260.84 298.64V300.60M261.14 299.55V301.11M261.44 299.28V302.24M261.74 298.34V300.30M262.04 297.17V300.35M262.34 297.28V300.09M262.64 296.92V299.43" stroke="#55b5aa"/><path d="M262.94 296.86V299.09" stroke="#ee7572"/><path d="M263.24 296.80V297.68M263.54 295.74V298.40M263.84 294.99V298.76M264.14 295.07V297.08M264.44 294.46V297.15M264.74 294.12V295.62M265.04 294.19V295.27M265.34 293.21V295.22" stroke="#55b5aa"/><path d="M265.64 292.27V295.49" stroke="#ee7572"/><path d="M265.94 292.31V295.07" stroke="#55b5aa"/><path d="M266.24 292.87V294.04" stroke="#ee7572"/><path d="M266.54 291.32V296.10M266.83 292.50V294.09M267.13 291.76V293.06M267.43 291.13V293.13" stroke="#55b5aa"/><path d="M267.73 290.19V292.86" stroke="#ee7572"/><path d="M268.03 291.59V292.30M268.33 289.91V294.12" stroke="#55b5aa"/><path d="M268.63 289.98V291.15M268.93 290.23V292.49" stroke="#ee7572"/><path d="M269.23 288.52V291.87" stroke="#55b5aa"/><path d="M269.53 288.75V290.56" stroke="#ee7572"/><path d="M269.83 289.16V291.99" stroke="#55b5aa"/><path d="M270.13 288.54V291.01" stroke="#ee7572"/><path d="M270.43 287.85V290.53M270.73 286.81V290.52M271.03 287.27V289.33M271.33 285.40V289.28M271.63 284.98V288.43" stroke="#55b5aa"/><path d="M271.93 285.85V287.49" stroke="#ee7572"/><path d="M272.23 284.34V288.13M272.53 283.38V288.01" stroke="#55b5aa"/><path d="M272.83 281.54V285.91" stroke="#ee7572"/><path d="M273.13 283.43V285.59M273.43 282.57V287.56M273.73 280.07V285.20M274.03 278.94V284.71M274.32 276.86V281.69M274.62 269.27V279.79M274.92 268.09V275.54M275.22 269.99V271.82" stroke="#55b5aa"/><path d="M275.52 268.85V274.94M275.82 268.63V273.88M276.12 272.54V276.57M276.42 273.79V278.38" stroke="#ee7572"/><path d="M276.72 274.75V277.71M277.02 269.47V275.96M277.32 269.58V274.51" stroke="#55b5aa"/><path d="M277.62 269.86V272.70M277.92 268.89V273.92M278.22 268.91V273.28" stroke="#ee7572"/><path d="M278.52 269.64V273.64M278.82 268.47V270.94M279.12 264.32V270.61" stroke="#55b5aa"/><path d="M279.42 264.63V272.35" stroke="#ee7572"/><path d="M279.72 267.40V270.85M280.02 264.48V269.99M280.32 266.28V271.34M280.62 266.91V269.44" stroke="#55b5aa"/><path d="M280.92 265.53V269.24" stroke="#ee7572"/><path d="M281.22 267.24V268.99M281.52 264.22V268.73M281.81 263.82V267.45M282.11 262.35V266.48M282.41 261.79V267.15M282.71 258.07V263.71" stroke="#55b5aa"/><path d="M283.01 261.07V267.10" stroke="#ee7572"/><path d="M283.31 261.04V264.50" stroke="#55b5aa"/><path d="M283.61 262.67V264.50" stroke="#ee7572"/><path d="M283.91 261.47V266.70M284.21 257.94V265.50M284.51 260.15V262.16" stroke="#55b5aa"/><path d="M284.81 259.15V268.02" stroke="#ee7572"/><path d="M285.11 256.62V263.28M285.41 253.63V264.01M285.71 257.85V262.00M286.01 256.26V260.45" stroke="#55b5aa"/><path d="M286.31 254.58V260.97" stroke="#ee7572"/><path d="M286.61 258.26V263.44" stroke="#55b5aa"/><path d="M286.91 256.10V264.77M287.21 259.29V264.13" stroke="#ee7572"/><path d="M287.51 259.81V266.07M287.81 253.66V265.15M288.11 255.71V259.71M288.41 252.52V259.03M288.71 250.00V257.28M289.01 249.16V255.28" stroke="#55b5aa"/><path d="M289.30 248.49V253.00" stroke="#ee7572"/><path d="M289.60 246.39V252.95M289.90 247.82V252.28M290.20 245.50V248.95M290.50 243.78V252.06" stroke="#55b5aa"/><path d="M290.80 244.53V252.40" stroke="#ee7572"/><path d="M291.10 247.29V250.88" stroke="#55b5aa"/><path d="M291.40 247.34V252.88M291.70 246.48V250.38" stroke="#ee7572"/><path d="M292.00 243.61V252.59M292.30 244.07V248.62M292.60 242.69V246.39" stroke="#55b5aa"/><path d="M292.90 238.99V250.36M293.20 239.24V245.78" stroke="#ee7572"/><path d="M293.50 241.34V248.75M293.80 237.61V247.05" stroke="#55b5aa"/><path d="M294.10 239.39V244.54" stroke="#ee7572"/><path d="M294.40 235.20V242.22M294.70 232.64V243.45" stroke="#55b5aa"/><path d="M295.00 236.71V242.42" stroke="#ee7572"/><path d="M295.30 237.89V241.77" stroke="#55b5aa"/><path d="M295.60 237.54V242.44M295.90 238.55V243.30M296.20 236.76V244.06M296.50 240.73V247.98M296.79 243.57V250.74" stroke="#ee7572"/><path d="M297.09 246.73V251.83" stroke="#55b5aa"/><path d="M297.39 240.25V249.65" stroke="#ee7572"/><path d="M297.69 243.71V250.02M297.99 241.28V247.15M298.29 239.99V246.43" stroke="#55b5aa"/><path d="M298.59 239.22V243.78" stroke="#ee7572"/><path d="M298.89 238.97V242.86M299.19 234.04V241.62" stroke="#55b5aa"/><path d="M299.49 231.97V240.56" stroke="#ee7572"/><path d="M299.79 233.11V239.22" stroke="#55b5aa"/><path d="M300.09 234.16V238.94" stroke="#ee7572"/><path d="M300.39 229.91V239.40" stroke="#55b5aa"/><path d="M300.69 231.97V240.39M300.99 236.45V241.70M301.29 237.82V242.57M301.59 236.86V243.21M301.89 238.32V243.22M302.19 240.56V245.15" stroke="#ee7572"/><path d="M302.49 238.76V244.94" stroke="#55b5aa"/><path d="M302.79 238.00V245.90M303.09 243.08V247.73" stroke="#ee7572"/><path d="M303.39 241.62V251.13M303.69 236.09V248.50" stroke="#55b5aa"/><path d="M303.99 235.91V242.13M304.28 234.57V245.72" stroke="#ee7572"/><path d="M304.58 239.25V242.88M304.88 237.23V243.51M305.18 228.65V240.47M305.48 226.00V236.28M305.78 231.40V237.23" stroke="#55b5aa"/><path d="M306.08 232.70V234.97M306.38 231.89V236.64" stroke="#ee7572"/><path d="M306.68 227.84V236.37M306.98 230.92V236.30" stroke="#55b5aa"/><path d="M307.28 231.50V238.98M307.58 232.70V239.23" stroke="#ee7572"/><path d="M307.88 226.44V237.96" stroke="#55b5aa"/><path d="M308.18 230.28V237.08M308.48 227.91V235.58M308.78 231.27V240.66" stroke="#ee7572"/><path d="M309.08 234.91V238.49M309.38 233.03V241.85" stroke="#55b5aa"/><path d="M309.68 235.12V238.26M309.98 236.01V241.38M310.28 238.11V245.08M310.58 239.34V245.48" stroke="#ee7572"/><path d="M310.88 235.43V248.20" stroke="#55b5aa"/><path d="M311.18 239.81V249.79" stroke="#ee7572"/><path d="M311.48 239.88V246.27M311.77 239.71V244.55" stroke="#55b5aa"/><path d="M312.07 238.59V242.55M312.37 240.25V246.49" stroke="#ee7572"/><path d="M312.67 237.30V242.94M312.97 231.82V240.36" stroke="#55b5aa"/><path d="M313.27 235.19V241.42M313.57 237.58V240.66M313.87 236.64V243.25M314.17 238.11V242.70M314.47 239.98V247.36" stroke="#ee7572"/><path d="M314.77 240.80V248.18" stroke="#55b5aa"/><path d="M315.07 240.26V244.72M315.37 242.14V244.77" stroke="#ee7572"/><path d="M315.67 240.74V244.95M315.97 239.64V246.10" stroke="#55b5aa"/><path d="M316.27 239.21V243.12" stroke="#ee7572"/><path d="M316.57 239.04V244.99" stroke="#55b5aa"/><path d="M316.87 236.27V245.87" stroke="#ee7572"/><path d="M317.17 234.29V244.04M317.47 234.49V245.89M317.77 233.44V236.21" stroke="#55b5aa"/><path d="M318.07 230.90V239.82" stroke="#ee7572"/><path d="M318.37 231.88V237.06M318.67 231.34V232.67" stroke="#55b5aa"/><path d="M318.97 228.09V233.95" stroke="#ee7572"/><path d="M319.26 225.98V236.88" stroke="#55b5aa"/><path d="M319.56 230.07V234.97" stroke="#ee7572"/><path d="M319.86 225.23V238.64M320.16 227.10V231.94" stroke="#55b5aa"/><path d="M320.46 224.29V231.61" stroke="#ee7572"/><path d="M320.76 223.30V234.97M321.06 223.95V228.88M321.36 219.44V228.88M321.66 219.24V223.24" stroke="#55b5aa"/><path d="M321.96 218.17V222.25M322.26 219.26V223.65" stroke="#ee7572"/><path d="M322.56 214.38V224.56" stroke="#55b5aa"/><path d="M322.86 218.11V221.60" stroke="#ee7572"/><path d="M323.16 217.47V223.57M323.46 217.46V221.67" stroke="#55b5aa"/><path d="M323.76 216.09V224.08M324.06 219.87V228.53M324.36 224.32V229.28M324.66 225.48V230.30M324.96 228.50V231.40M325.26 230.87V235.60" stroke="#ee7572"/><path d="M325.56 231.26V235.18" stroke="#55b5aa"/><path d="M325.86 232.18V237.23M326.16 237.00V244.08M326.46 239.87V244.34" stroke="#ee7572"/><path d="M326.75 237.39V244.17M327.05 236.05V243.29M327.35 233.70V239.41M327.65 230.53V237.58" stroke="#55b5aa"/><path d="M327.95 230.40V236.34" stroke="#ee7572"/><path d="M328.25 228.89V237.42M328.55 225.61V233.90M328.85 227.53V231.17" stroke="#55b5aa"/><path d="M329.15 228.78V235.19M329.45 226.46V231.92" stroke="#ee7572"/><path d="M329.75 225.36V233.81M330.05 224.67V230.47" stroke="#55b5aa"/><path d="M330.35 225.53V229.05" stroke="#ee7572"/><path d="M330.65 224.62V232.19M330.95 216.88V228.33" stroke="#55b5aa"/><path d="M331.25 222.33V228.99M331.55 220.95V227.46" stroke="#ee7572"/><path d="M331.85 224.88V228.64" stroke="#55b5aa"/><path d="M332.15 221.28V232.47" stroke="#ee7572"/><path d="M332.45 228.82V230.53" stroke="#55b5aa"/><path d="M332.75 222.54V230.63M333.05 228.46V234.77M333.35 227.11V234.10M333.65 228.78V237.20M333.95 234.42V241.62M334.24 236.41V245.20M334.54 238.18V245.72" stroke="#ee7572"/><path d="M334.84 239.51V243.12" stroke="#55b5aa"/><path d="M335.14 240.73V244.64" stroke="#ee7572"/><path d="M335.44 238.55V243.67" stroke="#55b5aa"/><path d="M335.74 237.99V241.85M336.04 236.82V242.33" stroke="#ee7572"/><path d="M336.34 236.33V242.65M336.64 238.22V242.71" stroke="#55b5aa"/><path d="M336.94 235.67V242.08" stroke="#ee7572"/><path d="M337.24 240.98V243.03M337.54 235.95V248.98" stroke="#55b5aa"/><path d="M337.84 239.80V247.39" stroke="#ee7572"/><path d="M338.14 241.76V243.90" stroke="#55b5aa"/><path d="M338.44 236.53V248.19M338.74 244.76V248.86" stroke="#ee7572"/><path d="M339.04 243.64V248.54M339.34 243.50V249.23M339.64 240.76V249.75" stroke="#55b5aa"/><path d="M339.94 239.41V244.07M340.24 240.48V246.63" stroke="#ee7572"/><path d="M340.54 238.05V245.13" stroke="#55b5aa"/><path d="M340.84 240.82V243.47" stroke="#ee7572"/><path d="M341.14 237.76V242.54M341.44 232.70V242.31M341.73 234.99V238.30M342.03 232.81V239.76M342.33 232.00V236.05M342.63 230.13V234.06M342.93 229.46V233.77M343.23 226.60V231.78" stroke="#55b5aa"/><path d="M343.53 225.52V231.18M343.83 227.78V231.42" stroke="#ee7572"/><path d="M344.13 223.97V232.24M344.43 223.90V229.98" stroke="#55b5aa"/><path d="M344.73 222.44V226.47" stroke="#ee7572"/><path d="M345.03 222.28V226.35M345.33 222.93V226.05M345.63 221.94V230.41M345.93 220.14V224.96" stroke="#55b5aa"/><path d="M346.23 219.57V225.17M346.53 220.55V224.22" stroke="#ee7572"/><path d="M346.83 219.12V225.50" stroke="#55b5aa"/><path d="M347.13 215.09V223.48" stroke="#ee7572"/><path d="M347.43 218.14V223.76M347.73 216.16V222.90" stroke="#55b5aa"/><path d="M348.03 213.78V217.25" stroke="#ee7572"/><path d="M348.33 211.67V215.41M348.63 208.75V218.17" stroke="#55b5aa"/><path d="M348.93 208.37V216.29M349.22 208.86V214.98" stroke="#ee7572"/><path d="M349.52 211.86V215.66" stroke="#55b5aa"/><path d="M349.82 209.73V221.28M350.12 213.55V219.37" stroke="#ee7572"/><path d="M350.42 216.20V220.01M350.72 214.97V219.43" stroke="#55b5aa"/><path d="M351.02 220.37V222.45" stroke="#ee7572"/><path d="M351.32 220.38V222.11M351.62 219.92V222.54M351.92 219.60V222.03M352.22 220.23V220.82" stroke="#55b5aa"/><path d="M352.52 219.74V223.18M352.82 219.83V223.08M353.12 220.54V232.11" stroke="#ee7572"/><path d="M353.42 222.64V229.32" stroke="#55b5aa"/><path d="M353.72 220.82V229.35M354.02 221.55V232.62" stroke="#ee7572"/><path d="M354.32 225.25V230.55" stroke="#55b5aa"/><path d="M354.62 226.44V232.52M354.92 227.40V231.83" stroke="#ee7572"/><path d="M355.22 223.59V233.30" stroke="#55b5aa"/><path d="M355.52 225.28V230.66" stroke="#ee7572"/><path d="M355.82 223.88V228.67" stroke="#55b5aa"/><path d="M356.12 221.73V230.61M356.42 225.49V230.10M356.71 227.25V235.21" stroke="#ee7572"/><path d="M357.01 223.96V232.10" stroke="#55b5aa"/><path d="M357.31 229.09V231.58M357.61 228.70V232.56M357.91 231.33V234.49M358.21 232.53V235.16" stroke="#ee7572"/><path d="M358.51 231.91V235.36" stroke="#55b5aa"/><path d="M358.81 230.58V234.50M359.11 231.73V239.01" stroke="#ee7572"/><path d="M359.41 233.07V239.01M359.71 235.85V237.08" stroke="#55b5aa"/><path d="M360.01 235.05V243.05M360.31 238.17V245.02M360.61 238.87V245.50" stroke="#ee7572"/><path d="M360.91 239.25V243.34M361.21 236.02V246.14M361.51 236.91V239.30" stroke="#55b5aa"/><path d="M361.81 237.48V242.48" stroke="#ee7572"/><path d="M362.11 233.25V240.94" stroke="#55b5aa"/><path d="M362.41 234.31V240.56M362.71 234.73V240.25M363.01 239.39V242.99" stroke="#ee7572"/><path d="M363.31 239.95V246.18" stroke="#55b5aa"/><path d="M363.61 237.07V244.56M363.91 240.52V248.78" stroke="#ee7572"/><path d="M364.20 243.09V248.66M364.50 242.15V247.85" stroke="#55b5aa"/><path d="M364.80 243.01V252.52" stroke="#ee7572"/><path d="M365.10 245.23V246.86" stroke="#55b5aa"/><path d="M365.40 243.72V252.20" stroke="#ee7572"/><path d="M365.70 245.10V253.36" stroke="#55b5aa"/><path d="M366.00 245.24V250.41M366.30 245.42V251.40" stroke="#ee7572"/><path d="M366.60 246.78V253.02" stroke="#55b5aa"/><path d="M366.90 248.09V250.17M367.20 246.01V251.57M367.50 247.66V252.66M367.80 249.50V255.34" stroke="#ee7572"/><path d="M368.10 248.38V254.85" stroke="#55b5aa"/><path d="M368.40 248.02V255.55" stroke="#ee7572"/><path d="M368.70 248.72V254.88" stroke="#55b5aa"/><path d="M369.00 248.43V254.39M369.30 250.63V255.40M369.60 253.04V256.21M369.90 251.84V260.77M370.20 255.44V260.07" stroke="#ee7572"/><path d="M370.50 256.09V260.66M370.80 251.33V262.84M371.10 251.92V255.23" stroke="#55b5aa"/><path d="M371.40 252.48V254.72M371.69 252.70V260.42" stroke="#ee7572"/><path d="M371.99 250.13V258.17M372.29 246.32V255.02" stroke="#55b5aa"/><path d="M372.59 247.22V255.25" stroke="#ee7572"/><path d="M372.89 248.50V252.77" stroke="#55b5aa"/><path d="M373.19 250.07V255.30M373.49 252.66V257.94M373.79 251.72V256.90M374.09 251.14V262.85" stroke="#ee7572"/><path d="M374.39 259.21V261.45" stroke="#55b5aa"/><path d="M374.69 258.57V263.88M374.99 258.52V262.42M375.29 261.27V266.26M375.59 262.91V269.52M375.89 262.93V268.67M376.19 261.62V267.37" stroke="#ee7572"/><path d="M376.49 262.74V269.18M376.79 264.23V269.93" stroke="#55b5aa"/><path d="M377.09 263.61V270.98M377.39 264.62V269.08M377.69 265.52V271.35M377.99 267.79V271.65M378.29 268.83V272.56M378.59 267.23V272.66M378.89 267.86V273.79M379.18 270.18V276.31M379.48 274.38V278.49M379.78 276.20V281.84" stroke="#ee7572"/><path d="M380.08 276.83V282.38M380.38 273.98V278.89M380.68 270.46V277.58M380.98 268.49V273.79M381.28 268.87V270.73M381.58 266.02V269.80M381.88 263.25V267.37M382.18 263.18V267.12" stroke="#55b5aa"/><path d="M382.48 265.13V267.52" stroke="#ee7572"/><path d="M382.78 266.53V268.45" stroke="#55b5aa"/><path d="M383.08 266.82V268.51M383.38 265.70V269.13" stroke="#ee7572"/><path d="M383.68 266.15V270.02M383.98 263.91V268.35M384.28 259.62V265.51M384.58 259.18V262.29M384.88 257.27V265.82M385.18 255.45V259.49M385.48 255.47V261.21M385.78 255.59V260.11M386.08 253.06V258.33M386.38 252.70V258.19" stroke="#55b5aa"/><path d="M386.67 250.37V257.71M386.97 254.13V260.20M387.27 253.27V261.71M387.57 253.50V260.89" stroke="#ee7572"/><path d="M387.87 256.92V260.04" stroke="#55b5aa"/><path d="M388.17 253.64V261.75M388.47 258.89V264.80M388.77 259.36V265.93M389.07 263.88V271.55M389.37 264.88V271.43M389.67 269.65V272.32M389.97 268.90V272.54M390.27 270.80V276.05M390.57 274.16V281.53M390.87 275.44V281.35M391.17 279.67V282.08" stroke="#ee7572"/><path d="M391.47 278.41V282.04M391.77 275.00V279.70" stroke="#55b5aa"/><path d="M392.07 274.17V278.06" stroke="#ee7572"/><path d="M392.37 274.18V278.80M392.67 272.29V278.27" stroke="#55b5aa"/><path d="M392.97 271.95V276.02" stroke="#ee7572"/><path d="M393.27 268.14V274.79M393.57 268.43V274.65M393.87 268.58V274.73M394.16 266.01V272.82M394.46 264.71V268.16M394.76 262.10V268.11M395.06 260.72V267.30M395.36 261.37V266.60M395.66 259.84V264.05" stroke="#55b5aa"/><path d="M395.96 259.07V261.39" stroke="#ee7572"/><path d="M396.26 259.53V265.87M396.56 258.02V262.83M396.86 255.49V259.92" stroke="#55b5aa"/><path d="M397.16 249.76V259.80" stroke="#ee7572"/><path d="M397.46 251.35V259.42M397.76 252.16V257.25M398.06 250.09V255.55" stroke="#55b5aa"/><path d="M398.36 251.33V254.32" stroke="#ee7572"/><path d="M398.66 249.13V256.05M398.96 250.39V254.04M399.26 247.68V254.79M399.56 248.45V250.08M399.86 246.02V250.84M400.16 241.47V247.72" stroke="#55b5aa"/><path d="M400.46 244.07V248.89M400.76 246.03V251.01" stroke="#ee7572"/><path d="M401.06 246.24V249.66" stroke="#55b5aa"/><path d="M401.36 244.95V248.90" stroke="#ee7572"/><path d="M401.65 246.09V249.30M401.95 240.48V247.05M402.25 241.65V246.33" stroke="#55b5aa"/><path d="M402.55 241.44V246.26" stroke="#ee7572"/><path d="M402.85 241.68V246.75M403.15 237.30V244.04" stroke="#55b5aa"/><path d="M403.45 238.38V243.17" stroke="#ee7572"/><path d="M403.75 236.90V243.24" stroke="#55b5aa"/><path d="M404.05 237.39V243.41M404.35 239.16V244.15" stroke="#ee7572"/><path d="M404.65 239.11V244.27M404.95 237.85V241.47M405.25 237.49V240.24" stroke="#55b5aa"/><path d="M405.55 236.62V241.00M405.85 237.23V242.77" stroke="#ee7572"/><path d="M406.15 238.29V243.10" stroke="#55b5aa"/><path d="M406.45 236.84V241.08M406.75 236.64V240.14" stroke="#ee7572"/><path d="M407.05 233.99V243.08" stroke="#55b5aa"/><path d="M407.35 235.02V245.86" stroke="#ee7572"/><path d="M407.65 240.24V243.68" stroke="#55b5aa"/><path d="M407.95 236.74V241.79M408.25 240.09V243.95M408.55 240.03V246.25" stroke="#ee7572"/><path d="M408.85 237.94V245.85M409.14 239.45V243.30M409.44 240.92V243.64M409.74 240.23V243.91M410.04 237.89V241.60M410.34 237.56V241.84M410.64 234.36V242.09" stroke="#55b5aa"/><path d="M410.94 234.14V240.59M411.24 235.68V243.16M411.54 236.90V244.74" stroke="#ee7572"/><path d="M411.84 237.47V243.30" stroke="#55b5aa"/><path d="M412.14 230.74V244.87" stroke="#ee7572"/><path d="M412.44 237.84V241.45M412.74 235.12V240.41" stroke="#55b5aa"/><path d="M413.04 236.54V240.15M413.34 236.31V240.84" stroke="#ee7572"/><path d="M413.64 236.37V244.59M413.94 236.59V241.02M414.24 233.30V239.55M414.54 231.44V240.96M414.84 234.97V238.27M415.14 235.83V237.39" stroke="#55b5aa"/><path d="M415.44 232.73V239.46" stroke="#ee7572"/><path d="M415.74 235.70V240.93M416.04 233.59V237.13" stroke="#55b5aa"/><path d="M416.34 234.86V238.78M416.63 234.79V239.08M416.93 235.14V242.30" stroke="#ee7572"/><path d="M417.23 234.00V239.76" stroke="#55b5aa"/><path d="M417.53 234.34V239.52" stroke="#ee7572"/><path d="M417.83 237.97V240.01" stroke="#55b5aa"/><path d="M418.13 234.37V241.13M418.43 233.48V240.97M418.73 236.95V242.30M419.03 241.80V245.44M419.33 240.95V246.51M419.63 241.90V246.40M419.93 240.67V248.69M420.23 246.53V252.05M420.53 246.92V257.02" stroke="#ee7572"/><path d="M420.83 251.34V254.33" stroke="#55b5aa"/><path d="M421.13 246.75V254.22M421.43 252.01V260.05M421.73 254.56V259.47M422.03 257.62V261.03M422.33 257.55V260.40M422.63 256.13V267.16" stroke="#ee7572"/><path d="M422.93 260.43V261.97" stroke="#55b5aa"/><path d="M423.23 260.75V266.13M423.53 262.02V265.79" stroke="#ee7572"/><path d="M423.83 260.05V266.75M424.12 259.01V265.07M424.42 258.65V262.19M424.72 256.88V260.98M425.02 254.15V264.16M425.32 256.52V258.95M425.62 253.46V259.84M425.92 252.79V257.23" stroke="#55b5aa"/><path d="M426.22 253.02V254.38" stroke="#ee7572"/><path d="M426.52 252.39V254.25M426.82 250.07V257.16M427.12 248.50V254.69" stroke="#55b5aa"/><path d="M427.42 248.01V253.77" stroke="#ee7572"/><path d="M427.72 246.97V252.43M428.02 247.71V254.29M428.32 246.02V250.42M428.62 240.57V247.75M428.92 242.65V245.14" stroke="#55b5aa"/><path d="M429.22 240.27V249.27" stroke="#ee7572"/><path d="M429.52 242.12V244.42M429.82 240.33V245.10M430.12 240.76V246.45" stroke="#55b5aa"/><path d="M430.42 237.79V245.64M430.72 240.89V247.54" stroke="#ee7572"/><path d="M431.02 239.41V249.68" stroke="#55b5aa"/><path d="M431.32 241.11V244.74M431.61 242.91V249.00" stroke="#ee7572"/><path d="M431.91 245.78V249.45M432.21 245.67V250.85" stroke="#55b5aa"/><path d="M432.51 245.78V247.80M432.81 245.01V247.10" stroke="#ee7572"/><path d="M433.11 241.34V248.34M433.41 243.00V245.03M433.71 242.72V249.71M434.01 239.53V249.98M434.31 239.77V245.31" stroke="#55b5aa"/><path d="M434.61 239.65V246.29" stroke="#ee7572"/><path d="M434.91 244.29V246.29M435.21 239.80V245.54M435.51 240.50V246.49" stroke="#55b5aa"/><path d="M435.81 242.78V250.12M436.11 245.32V250.77M436.41 246.38V259.56M436.71 255.18V258.88M437.01 255.81V263.33" stroke="#ee7572"/><path d="M437.31 255.49V266.28M437.61 255.99V259.55M437.91 255.10V258.57M438.21 253.80V255.77M438.51 251.27V254.57M438.81 248.28V253.11M439.10 246.91V250.07M439.40 243.39V249.49M439.70 242.06V246.48M440.00 240.66V245.91M440.30 241.19V243.20" stroke="#55b5aa"/><path d="M440.60 238.51V243.72" stroke="#ee7572"/><path d="M440.90 239.51V245.59M441.20 241.84V244.98M441.50 240.18V243.12" stroke="#55b5aa"/><path d="M441.80 239.13V244.77M442.10 239.66V242.81" stroke="#ee7572"/><path d="M442.40 238.93V242.73" stroke="#55b5aa"/><path d="M442.70 239.92V241.68" stroke="#ee7572"/><path d="M443.00 238.23V240.68" stroke="#55b5aa"/><path d="M443.30 237.35V240.80" stroke="#ee7572"/><path d="M443.60 237.55V242.37" stroke="#55b5aa"/><path d="M443.90 236.53V241.92M444.20 236.77V241.12" stroke="#ee7572"/><path d="M444.50 239.69V244.33M444.80 238.45V240.64M445.10 238.15V240.54M445.40 236.74V239.71M445.70 235.03V240.06M446.00 235.60V239.12" stroke="#55b5aa"/><path d="M446.30 235.03V239.85M446.59 236.15V240.82M446.89 237.83V242.74M447.19 239.30V242.86M447.49 239.62V247.01M447.79 242.37V247.86M448.09 246.89V249.21M448.39 245.39V250.46M448.69 248.37V250.82M448.99 247.28V254.21M449.29 252.95V255.06" stroke="#ee7572"/><path d="M449.59 253.17V254.50" stroke="#55b5aa"/><path d="M449.89 252.17V254.45" stroke="#ee7572"/><path d="M450.19 252.05V259.19M450.49 247.37V253.80M450.79 245.98V251.43M451.09 242.70V248.18M451.39 242.52V244.86" stroke="#55b5aa"/><path d="M451.69 241.81V243.49" stroke="#ee7572"/><path d="M451.99 241.12V245.44" stroke="#55b5aa"/><path d="M452.29 241.85V247.67" stroke="#ee7572"/><path d="M452.59 239.26V246.44" stroke="#55b5aa"/><path d="M452.89 242.70V245.36" stroke="#ee7572"/><path d="M453.19 241.13V244.72M453.49 242.80V247.10" stroke="#55b5aa"/><path d="M453.79 243.39V244.87" stroke="#ee7572"/><path d="M454.08 240.19V247.77M454.38 237.76V244.24M454.68 237.60V241.93M454.98 238.21V241.00" stroke="#55b5aa"/><path d="M455.28 236.73V240.94" stroke="#ee7572"/><path d="M455.58 236.57V239.10M455.88 235.62V239.00M456.18 234.63V240.61" stroke="#55b5aa"/><path d="M456.48 235.34V238.89" stroke="#ee7572"/><path d="M456.78 232.04V237.44M457.08 234.19V237.40M457.38 233.19V236.28M457.68 231.33V236.38M457.98 231.15V233.86" stroke="#55b5aa"/><path d="M458.28 229.95V234.07" stroke="#ee7572"/><path d="M458.58 230.73V234.55M458.88 230.49V233.88" stroke="#55b5aa"/><path d="M459.18 231.32V234.12" stroke="#ee7572"/><path d="M459.48 230.75V234.67" stroke="#55b5aa"/><path d="M459.78 229.88V238.57" stroke="#ee7572"/><path d="M460.08 231.32V237.64M460.38 228.47V232.78M460.68 226.05V234.07M460.98 225.01V229.58M461.28 225.49V232.51M461.57 222.88V227.09M461.87 222.49V227.89M462.17 222.18V225.23M462.47 219.92V224.87M462.77 219.63V221.22M463.07 217.80V221.92M463.37 212.36V218.08M463.67 215.30V218.29" stroke="#55b5aa"/><path d="M463.97 214.89V219.69" stroke="#ee7572"/><path d="M464.27 211.47V219.08M464.57 210.14V216.40M464.87 207.53V214.34M465.17 203.88V214.29" stroke="#55b5aa"/><path d="M465.47 205.23V214.60" stroke="#ee7572"/><path d="M465.77 207.11V217.31M466.07 208.42V215.10" stroke="#55b5aa"/><path d="M466.37 209.20V213.18" stroke="#ee7572"/><path d="M466.67 204.68V217.59M466.97 201.71V208.07" stroke="#55b5aa"/><path d="M467.27 197.73V205.28" stroke="#ee7572"/><path d="M467.57 201.07V207.30M467.87 197.38V206.45" stroke="#55b5aa"/><path d="M468.17 199.72V206.87" stroke="#ee7572"/><path d="M468.47 195.34V205.76M468.77 200.83V205.24M469.06 199.05V204.96" stroke="#55b5aa"/><path d="M469.36 197.60V202.31M469.66 200.59V203.77" stroke="#ee7572"/><path d="M469.96 198.49V205.71M470.26 199.25V203.31M470.56 197.89V206.38M470.86 196.29V200.43" stroke="#55b5aa"/><path d="M471.16 197.67V205.76" stroke="#ee7572"/><path d="M471.46 196.37V203.09" stroke="#55b5aa"/><path d="M471.76 197.72V203.84M472.06 200.53V213.05" stroke="#ee7572"/><path d="M472.36 198.33V211.01" stroke="#55b5aa"/><path d="M472.66 203.78V208.80M472.96 205.83V213.18M473.26 208.81V215.61M473.56 210.13V219.92M473.86 216.21V222.72M474.16 218.85V222.54" stroke="#ee7572"/><path d="M474.46 214.15V222.12M474.76 211.16V217.25M475.06 207.15V213.28M475.36 205.47V211.69M475.66 202.27V206.20" stroke="#55b5aa"/><path d="M475.96 199.51V207.92M476.26 205.25V207.49" stroke="#ee7572"/><path d="M476.55 201.98V208.57M476.85 200.14V206.86" stroke="#55b5aa"/><path d="M477.15 200.37V204.22" stroke="#ee7572"/><path d="M477.45 198.53V210.09" stroke="#55b5aa"/><path d="M477.75 196.92V207.23" stroke="#ee7572"/><path d="M478.05 202.44V207.62" stroke="#55b5aa"/><path d="M478.35 203.25V211.35M478.65 204.19V211.43M478.95 206.47V212.44M479.25 211.75V218.53" stroke="#ee7572"/><path d="M479.55 213.85V220.62" stroke="#55b5aa"/><path d="M479.85 214.62V218.81M480.15 216.76V226.93" stroke="#ee7572"/><path d="M480.45 216.20V220.85" stroke="#55b5aa"/><path d="M480.75 213.86V223.53M481.05 216.39V223.97" stroke="#ee7572"/><path d="M481.35 221.83V223.42" stroke="#55b5aa"/><path d="M481.65 222.00V224.33" stroke="#ee7572"/><path d="M481.95 220.19V225.22" stroke="#55b5aa"/><path d="M482.25 217.18V229.39" stroke="#ee7572"/><path d="M482.55 225.38V231.90" stroke="#55b5aa"/><path d="M482.85 225.20V236.03" stroke="#ee7572"/><path d="M483.15 233.02V238.43" stroke="#55b5aa"/><path d="M483.45 230.17V239.78M483.75 235.27V239.69" stroke="#ee7572"/><path d="M484.04 235.50V240.41M484.34 230.74V245.37M484.64 233.79V236.70M484.94 232.88V237.17M485.24 232.37V238.00M485.54 229.91V238.22M485.84 227.88V238.47M486.14 228.42V231.62M486.44 225.32V230.50M486.74 223.26V231.79M487.04 221.10V228.25M487.34 221.65V226.68" stroke="#55b5aa"/><path d="M487.64 221.51V229.61" stroke="#ee7572"/><path d="M487.94 218.56V223.95M488.24 220.08V224.17" stroke="#55b5aa"/><path d="M488.54 217.81V222.13M488.84 219.40V225.30" stroke="#ee7572"/><path d="M489.14 215.46V222.30M489.44 209.57V217.37" stroke="#55b5aa"/><path d="M489.74 212.32V217.68" stroke="#ee7572"/><path d="M490.04 211.29V217.72M490.34 212.90V218.31" stroke="#55b5aa"/><path d="M490.64 211.30V217.07" stroke="#ee7572"/><path d="M490.94 207.57V215.50M491.24 207.24V213.96" stroke="#55b5aa"/><path d="M491.53 208.31V213.55M491.83 212.86V215.12M492.13 211.51V219.76" stroke="#ee7572"/><path d="M492.43 212.80V217.80M492.73 212.63V217.98M493.03 208.60V214.70M493.33 209.04V213.09M493.63 205.24V210.47M493.93 204.61V213.46" stroke="#55b5aa"/><path d="M494.23 207.30V209.35" stroke="#ee7572"/><path d="M494.53 205.92V208.90M494.83 202.92V210.42M495.13 197.23V205.68" stroke="#55b5aa"/><path d="M495.43 200.87V206.32" stroke="#ee7572"/><path d="M495.73 202.80V206.52M496.03 199.72V205.08" stroke="#55b5aa"/><path d="M496.33 198.67V205.40M496.63 201.02V208.11" stroke="#ee7572"/><path d="M496.93 200.53V210.27M497.23 196.80V208.75" stroke="#55b5aa"/><path d="M497.53 203.12V211.39M497.83 204.62V210.15M498.13 201.96V208.87" stroke="#ee7572"/><path d="M498.43 204.33V208.41M498.73 198.15V211.22" stroke="#55b5aa"/><path d="M499.02 201.30V204.12M499.32 194.39V205.51M499.62 202.99V205.80" stroke="#ee7572"/><path d="M499.92 202.13V207.39M500.22 199.56V205.80M500.52 199.54V203.16" stroke="#55b5aa"/><path d="M500.82 196.30V202.24" stroke="#ee7572"/><path d="M501.12 194.89V202.50" stroke="#55b5aa"/><path d="M501.42 197.34V202.66M501.72 196.55V201.84" stroke="#ee7572"/><path d="M502.02 195.53V205.59M502.32 198.33V201.91" stroke="#55b5aa"/><path d="M502.62 199.68V202.41M502.92 195.88V208.73" stroke="#ee7572"/><path d="M503.22 201.59V205.83" stroke="#55b5aa"/><path d="M503.52 198.62V204.89" stroke="#ee7572"/><path d="M503.82 197.81V205.71" stroke="#55b5aa"/><path d="M504.12 198.19V207.92M504.42 203.82V206.37" stroke="#ee7572"/><path d="M504.72 200.74V208.38M505.02 194.83V204.08M505.32 190.80V201.15" stroke="#55b5aa"/><path d="M505.62 190.66V198.54M505.92 190.43V197.57" stroke="#ee7572"/><path d="M506.22 191.73V199.61M506.51 177.87V194.64M506.81 171.04V184.34" stroke="#55b5aa"/><path d="M507.11 171.55V175.17" stroke="#ee7572"/><path d="M507.41 168.88V177.57" stroke="#55b5aa"/><path d="M507.71 166.88V175.89M508.01 165.39V182.23" stroke="#ee7572"/><path d="M508.31 176.00V181.42" stroke="#55b5aa"/><path d="M508.61 175.86V187.16" stroke="#ee7572"/><path d="M508.91 171.69V183.63M509.21 175.25V178.35" stroke="#55b5aa"/><path d="M509.51 175.31V183.15M509.81 176.80V181.96" stroke="#ee7572"/><path d="M510.11 171.16V186.37M510.41 174.51V180.16M510.71 170.94V176.38" stroke="#55b5aa"/><path d="M511.01 168.95V183.44" stroke="#ee7572"/><path d="M511.31 170.15V179.27M511.61 164.80V174.77" stroke="#55b5aa"/><path d="M511.91 167.07V169.82" stroke="#ee7572"/><path d="M512.21 162.81V174.84M512.51 163.92V169.63" stroke="#55b5aa"/><path d="M512.81 163.61V176.24M513.11 170.43V179.51M513.41 170.33V178.40" stroke="#ee7572"/><path d="M513.71 170.97V179.27M514.00 168.25V177.16" stroke="#55b5aa"/><path d="M514.30 166.38V176.87M514.60 164.82V176.82" stroke="#ee7572"/><path d="M514.90 169.15V177.39" stroke="#55b5aa"/><path d="M515.20 167.83V175.78" stroke="#ee7572"/><path d="M515.50 163.14V174.39M515.80 158.91V168.96" stroke="#55b5aa"/><path d="M516.10 160.76V166.23" stroke="#ee7572"/><path d="M516.40 160.84V169.06M516.70 152.79V164.37M517.00 147.29V164.55M517.30 148.44V166.71M517.60 144.88V154.47M517.90 136.89V150.35" stroke="#55b5aa"/><path d="M518.20 131.25V144.06M518.50 139.96V144.71M518.80 133.55V155.06M519.10 144.58V154.68M519.40 147.77V160.07" stroke="#ee7572"/><path d="M519.70 154.35V162.21" stroke="#55b5aa"/><path d="M520.00 151.75V160.18M520.30 153.97V162.69" stroke="#ee7572"/><path d="M520.60 157.35V162.66" stroke="#55b5aa"/><path d="M520.90 154.49V162.34M521.20 155.22V164.73M521.49 159.75V167.22M521.79 162.20V163.95" stroke="#ee7572"/><path d="M522.09 154.48V170.76M522.39 154.57V161.88M522.69 142.94V160.50" stroke="#55b5aa"/><path d="M522.99 150.10V160.66" stroke="#ee7572"/><path d="M523.29 148.67V158.62M523.59 150.38V154.50M523.89 148.24V165.31M524.19 140.97V153.13M524.49 144.08V152.70" stroke="#55b5aa"/><path d="M524.79 148.42V152.39" stroke="#ee7572"/><path d="M525.09 136.13V151.96M525.39 133.10V149.12" stroke="#55b5aa"/><path d="M525.69 137.87V141.59" stroke="#ee7572"/><path d="M525.99 138.57V146.14M526.29 133.78V138.32M526.59 130.57V136.50M526.89 128.59V138.75" stroke="#55b5aa"/><path d="M527.19 123.77V140.05M527.49 129.63V137.82" stroke="#ee7572"/><path d="M527.79 131.19V137.79M528.09 124.68V132.17M528.39 123.35V136.86M528.69 119.96V124.28" stroke="#55b5aa"/><path d="M528.98 120.67V133.82" stroke="#ee7572"/><path d="M529.28 123.96V129.47M529.58 120.63V127.97M529.88 120.08V120.75" stroke="#55b5aa"/><path d="M530.18 120.10V121.47M530.48 119.87V124.58" stroke="#ee7572"/><path d="M530.78 119.69V126.97" stroke="#55b5aa"/><path d="M531.08 120.02V133.15M531.38 121.20V133.71M531.68 125.05V138.23M531.98 133.87V143.13M532.28 136.17V149.35M532.58 133.93V147.29M532.88 144.65V156.85M533.18 150.37V161.95M533.48 155.67V167.14M533.78 160.75V168.29M534.08 165.09V173.49M534.38 171.02V176.16" stroke="#ee7572"/><path d="M534.68 164.28V180.11M534.98 160.94V173.57M535.28 155.91V173.33M535.58 152.49V166.15M535.88 153.70V160.11" stroke="#55b5aa"/><path d="M536.18 152.41V157.49M536.47 152.14V164.50" stroke="#ee7572"/><path d="M536.77 153.44V163.44" stroke="#55b5aa"/><path d="M537.07 152.19V161.85M537.37 157.82V165.28M537.67 157.99V167.93M537.97 162.33V171.08" stroke="#ee7572"/><path d="M538.27 160.94V171.43M538.57 160.91V170.54" stroke="#55b5aa"/><path d="M538.87 155.98V165.16M539.17 162.71V175.15M539.47 166.43V176.47M539.77 168.21V173.97" stroke="#ee7572"/><path d="M540.07 169.98V173.54" stroke="#55b5aa"/><path d="M540.37 168.85V178.47M540.67 169.56V180.67" stroke="#ee7572"/><path d="M540.97 175.23V185.28M541.27 173.07V180.35" stroke="#55b5aa"/><path d="M541.57 172.81V179.49M541.87 174.29V181.60" stroke="#ee7572"/><path d="M542.17 177.17V181.67" stroke="#55b5aa"/><path d="M542.47 174.94V188.93M542.77 178.64V183.65M543.07 179.50V193.51M543.37 183.46V199.44M543.67 192.94V201.04M543.96 192.48V198.55M544.26 191.86V201.15" stroke="#ee7572"/><path d="M544.56 191.78V200.67M544.86 184.64V195.63M545.16 184.37V194.02M545.46 189.20V192.70M545.76 181.95V196.25" stroke="#55b5aa"/><path d="M546.06 183.67V188.85" stroke="#ee7572"/><path d="M546.36 183.60V194.07" stroke="#55b5aa"/><path d="M546.66 178.59V195.28" stroke="#ee7572"/><path d="M546.96 182.24V186.91M547.26 173.80V184.20M547.56 169.11V176.33M547.86 163.25V173.90" stroke="#55b5aa"/><path d="M548.16 166.83V172.23" stroke="#ee7572"/><path d="M548.46 164.64V169.25M548.76 162.58V166.03" stroke="#55b5aa"/><path d="M549.06 162.55V166.46M549.36 156.12V175.90M549.66 160.45V172.54M549.96 161.66V168.76" stroke="#ee7572"/><path d="M550.26 160.96V173.65" stroke="#55b5aa"/><path d="M550.56 158.87V167.31" stroke="#ee7572"/><path d="M550.86 153.66V163.55M551.16 157.74V166.26" stroke="#55b5aa"/><path d="M551.45 157.27V168.81M551.75 155.98V163.85M552.05 160.42V170.40M552.35 163.47V168.14" stroke="#ee7572"/><path d="M552.65 161.90V168.64" stroke="#55b5aa"/><path d="M552.95 164.74V169.13M553.25 165.36V174.26M553.55 159.88V175.46M553.85 170.14V177.22M554.15 169.08V178.31M554.45 173.27V183.05M554.75 173.99V182.69M555.05 178.87V180.50M555.35 176.31V186.75" stroke="#ee7572"/><path d="M555.65 184.14V189.00" stroke="#55b5aa"/><path d="M555.95 182.52V188.92" stroke="#ee7572"/><path d="M556.25 185.98V189.12M556.55 181.75V189.57" stroke="#55b5aa"/><path d="M556.85 182.62V191.98" stroke="#ee7572"/><path d="M557.15 181.35V192.97" stroke="#55b5aa"/><path d="M557.45 180.75V189.78" stroke="#ee7572"/><path d="M557.75 188.00V191.61" stroke="#55b5aa"/><path d="M558.05 185.97V190.93M558.35 188.11V192.07" stroke="#ee7572"/><path d="M558.65 188.08V195.85M558.94 183.91V192.71" stroke="#55b5aa"/><path d="M559.24 188.12V192.13M559.54 189.26V191.76" stroke="#ee7572"/><path d="M559.84 188.57V193.02M560.14 183.84V193.36" stroke="#55b5aa"/><path d="M560.44 189.03V195.23M560.74 191.16V194.95" stroke="#ee7572"/><path d="M561.04 188.53V197.82" stroke="#55b5aa"/><path d="M561.34 187.39V192.67" stroke="#ee7572"/><path d="M561.64 190.31V193.93" stroke="#55b5aa"/><path d="M561.94 186.77V192.62M562.24 188.39V195.70" stroke="#ee7572"/><path d="M562.54 188.53V193.20M562.84 185.19V197.85M563.14 178.53V190.51" stroke="#55b5aa"/><path d="M563.44 180.90V192.03M563.74 187.66V193.30M564.04 187.32V189.03" stroke="#ee7572"/><path d="M564.34 185.98V188.82M564.64 182.38V188.51" stroke="#55b5aa"/><path d="M564.94 184.01V188.23M565.24 185.57V195.88M565.54 187.36V195.82M565.84 188.39V195.13" stroke="#ee7572"/><path d="M566.14 189.29V191.18" stroke="#55b5aa"/><path d="M566.43 188.61V196.14M566.73 188.34V194.66M567.03 190.12V197.12" stroke="#ee7572"/><path d="M567.33 187.11V198.73" stroke="#55b5aa"/><path d="M567.63 190.91V196.15M567.93 194.32V200.09M568.23 194.32V197.43M568.53 189.96V199.65M568.83 192.19V199.14M569.13 194.06V199.03M569.43 192.19V200.68M569.73 199.31V202.87M570.03 200.86V206.85M570.33 198.37V208.99M570.63 201.89V209.90M570.93 204.16V206.86M571.23 199.93V208.32" stroke="#ee7572"/><path d="M571.53 205.06V209.85M571.83 203.61V207.87M572.13 200.42V210.20M572.43 202.47V206.50" stroke="#55b5aa"/><path d="M572.73 200.52V208.77M573.03 202.66V210.67M573.33 206.24V211.60M573.63 206.21V210.79" stroke="#ee7572"/><path d="M573.92 197.36V210.33" stroke="#55b5aa"/><path d="M574.22 203.94V209.42M574.52 203.12V210.85" stroke="#ee7572"/><path d="M574.82 205.07V211.40" stroke="#55b5aa"/><path d="M575.12 204.62V211.11" stroke="#ee7572"/><path d="M575.42 204.59V212.75" stroke="#55b5aa"/><path d="M575.72 203.08V208.83M576.02 206.54V211.50M576.32 202.34V210.90M576.62 208.12V213.56" stroke="#ee7572"/><path d="M576.92 206.97V213.12M577.22 210.71V212.82M577.52 207.49V215.61" stroke="#55b5aa"/><path d="M577.82 206.36V217.38" stroke="#ee7572"/><path d="M578.12 207.40V213.03M578.42 202.90V214.18M578.72 202.89V206.60M579.02 200.29V207.85M579.32 199.00V203.91M579.62 190.06V201.71M579.92 193.52V199.20" stroke="#55b5aa"/><path d="M580.22 193.23V201.33" stroke="#ee7572"/><path d="M580.52 196.30V201.51M580.82 198.45V206.40" stroke="#55b5aa"/><path d="M581.12 201.23V205.42" stroke="#ee7572"/><path d="M581.41 202.54V211.21" stroke="#55b5aa"/><path d="M581.71 202.19V206.60M582.01 203.42V208.41" stroke="#ee7572"/><path d="M582.31 201.96V209.70" stroke="#55b5aa"/><path d="M582.61 203.77V214.19" stroke="#ee7572"/><path d="M582.91 207.52V216.95" stroke="#55b5aa"/><path d="M583.21 206.11V213.87M583.51 209.84V221.75" stroke="#ee7572"/><path d="M583.81 212.21V223.39" stroke="#55b5aa"/><path d="M584.11 207.70V217.57M584.41 210.78V216.26M584.71 211.84V222.02M585.01 215.45V221.09" stroke="#ee7572"/><path d="M585.31 217.88V219.44" stroke="#55b5aa"/><path d="M585.61 217.27V223.17M585.91 218.86V222.31M586.21 215.74V227.62M586.51 219.54V226.58M586.81 221.49V226.86" stroke="#ee7572"/><path d="M587.11 224.89V230.95" stroke="#55b5aa"/><path d="M587.41 220.28V231.24" stroke="#ee7572"/><path d="M587.71 223.74V232.35" stroke="#55b5aa"/><path d="M588.01 227.92V232.07M588.31 230.87V232.04M588.61 228.58V234.80" stroke="#ee7572"/><path d="M588.90 229.91V236.28M589.20 230.22V237.94M589.50 231.78V234.97" stroke="#55b5aa"/><path d="M589.80 230.52V237.73M590.10 232.72V237.06M590.40 233.96V241.19M590.70 237.34V244.02M591.00 240.57V248.18M591.30 244.13V247.96M591.60 247.06V249.36M591.90 245.67V251.48" stroke="#ee7572"/><path d="M592.20 247.17V250.82M592.50 247.36V249.73" stroke="#55b5aa"/><path d="M592.80 245.52V251.32" stroke="#ee7572"/><path d="M593.10 248.08V250.33" stroke="#55b5aa"/><path d="M593.40 247.43V253.93M593.70 247.96V253.43M594.00 249.15V253.46M594.30 248.40V254.29" stroke="#ee7572"/><path d="M594.60 249.52V253.69M594.90 248.54V252.73" stroke="#55b5aa"/><path d="M595.20 248.29V254.44M595.50 251.48V255.47M595.80 252.41V257.67M596.10 255.43V257.13M596.39 255.73V259.41M596.69 257.25V262.64M596.99 257.03V261.77M597.29 259.27V264.51" stroke="#ee7572"/><path d="M597.59 259.37V263.49" stroke="#55b5aa"/><path d="M597.89 260.89V265.79" stroke="#ee7572"/><path d="M598.19 260.81V267.04M598.49 261.90V267.57" stroke="#55b5aa"/><path d="M598.79 260.79V268.94M599.09 262.04V271.48M599.39 267.38V273.92M599.69 271.30V273.39M599.99 268.30V274.84" stroke="#ee7572"/><path d="M600.29 269.79V276.54M600.59 264.41V273.33M600.89 262.54V271.25M601.19 261.12V268.43M601.49 256.70V262.33M601.79 251.70V261.13" stroke="#55b5aa"/><path d="M602.09 249.89V256.18" stroke="#ee7572"/><path d="M602.39 250.85V256.96M602.69 248.62V254.55M602.99 240.87V254.28M603.29 242.93V248.07" stroke="#55b5aa"/><path d="M603.59 240.81V245.07M603.88 242.61V246.00" stroke="#ee7572"/><path d="M604.18 237.26V245.89M604.48 237.18V242.35M604.78 235.30V238.99" stroke="#55b5aa"/><path d="M605.08 237.36V241.33M605.38 237.37V243.32M605.68 242.36V245.54M605.98 237.06V249.11M606.28 244.07V250.90" stroke="#ee7572"/><path d="M606.58 246.40V252.05M606.88 248.26V251.98" stroke="#55b5aa"/><path d="M607.18 249.03V252.15" stroke="#ee7572"/><path d="M607.48 249.21V253.27M607.78 249.02V251.23" stroke="#55b5aa"/><path d="M608.08 249.81V255.47" stroke="#ee7572"/><path d="M608.38 249.99V253.85" stroke="#55b5aa"/><path d="M608.68 249.50V253.27M608.98 250.82V254.49M609.28 252.16V261.97M609.58 259.43V268.00M609.88 258.92V270.19M610.18 265.82V270.23M610.48 268.21V272.56M610.78 266.10V273.92M611.08 269.64V275.53M611.37 271.60V282.28M611.67 275.32V280.89" stroke="#ee7572"/><path d="M611.97 277.66V280.52" stroke="#55b5aa"/><path d="M612.27 276.56V280.89M612.57 277.27V284.19" stroke="#ee7572"/><path d="M612.87 280.90V283.27" stroke="#55b5aa"/><path d="M613.17 280.03V284.12M613.47 282.19V286.91M613.77 283.78V291.47M614.07 288.77V293.86M614.37 289.55V293.82M614.67 289.97V292.80" stroke="#ee7572"/><path d="M614.97 290.19V292.48M615.27 286.17V292.73M615.57 288.57V291.08" stroke="#55b5aa"/><path d="M615.87 288.15V291.39M616.17 288.49V293.25M616.47 290.98V294.49" stroke="#ee7572"/><path d="M616.77 291.12V294.58M617.07 289.45V293.75" stroke="#55b5aa"/><path d="M617.37 291.29V293.87M617.67 290.80V295.02" stroke="#ee7572"/><path d="M617.97 292.93V296.11" stroke="#55b5aa"/><path d="M618.27 294.31V297.44" stroke="#ee7572"/><path d="M618.57 291.79V297.13M618.86 293.85V296.28M619.16 287.97V294.86M619.46 288.70V294.82M619.76 288.08V293.21M620.06 284.56V290.43M620.36 282.24V287.76M620.66 279.02V286.56M620.96 277.66V282.46" stroke="#55b5aa"/><path d="M621.26 276.21V279.60M621.56 277.37V281.50M621.86 279.36V283.67" stroke="#ee7572"/><path d="M622.16 281.00V284.65M622.46 281.00V283.38" stroke="#55b5aa"/><path d="M622.76 280.76V284.91M623.06 282.56V289.69" stroke="#ee7572"/><path d="M623.36 286.62V288.21" stroke="#55b5aa"/><path d="M623.66 284.50V288.42M623.96 285.93V291.48M624.26 286.50V290.46M624.56 286.88V292.58M624.86 289.46V294.02M625.16 291.34V293.25M625.46 289.98V297.61" stroke="#ee7572"/><path d="M625.76 293.36V298.00M626.06 291.00V295.71M626.35 289.16V292.41M626.65 289.00V291.91M626.95 288.45V293.81M627.25 286.97V290.47M627.55 285.21V291.06M627.85 281.95V290.60" stroke="#55b5aa"/><path d="M628.15 284.45V289.16M628.45 284.06V289.79M628.75 286.12V292.63M629.05 291.78V294.99M629.35 292.82V294.43M629.65 292.96V296.33M629.95 292.71V299.22M630.25 296.99V300.41M630.55 298.28V302.82M630.85 300.46V303.57M631.15 299.25V303.88M631.45 302.71V307.11M631.75 301.56V307.04M632.05 306.45V308.37M632.35 306.55V311.66M632.65 309.76V315.82M632.95 314.12V322.36M633.25 320.66V327.27M633.55 325.57V328.90" stroke="#ee7572"/></g>
<rect x="774.5" y="323.7" width="21.5" height="8.5" rx="0.8" fill="#ef5350"/>
<text x="785.4" y="330.1" font-size="5.6" fill="#ffffff" text-anchor="middle" textLength="12.2" lengthAdjust="spacingAndGlyphs">77.76</text>
<path d="M78.70 446.3L83.10 449.5V456.6H74.30V449.5Z" fill="#181c27" stroke="#1a7566" stroke-width="1.1" stroke-linejoin="round"/><path d="M80.00 449.60H77.60V454.20H80.00M77.60 451.90H79.70" stroke="#55b8a8" stroke-width="0.75" fill="none"/>
<path d="M95.90 446.3L100.30 449.5V456.6H91.50V449.5Z" fill="#181c27" stroke="#1a7566" stroke-width="1.1" stroke-linejoin="round"/><path d="M97.20 449.60H94.80V454.20H97.20M94.80 451.90H96.90" stroke="#55b8a8" stroke-width="0.75" fill="none"/>
<path d="M116.40 446.3L120.80 449.5V456.6H112.00V449.5Z" fill="#181c27" stroke="#1a7566" stroke-width="1.1" stroke-linejoin="round"/><path d="M117.70 449.60H115.30V454.20H117.70M115.30 451.90H117.40" stroke="#55b8a8" stroke-width="0.75" fill="none"/>
<path d="M136.50 446.3L140.90 449.5V456.6H132.10V449.5Z" fill="#181c27" stroke="#1a7566" stroke-width="1.1" stroke-linejoin="round"/><path d="M137.80 449.60H135.40V454.20H137.80M135.40 451.90H137.50" stroke="#55b8a8" stroke-width="0.75" fill="none"/>
<path d="M152.50 446.3L156.90 449.5V456.6H148.10V449.5Z" fill="#181c27" stroke="#1a7566" stroke-width="1.1" stroke-linejoin="round"/><path d="M153.80 449.60H151.40V454.20H153.80M151.40 451.90H153.50" stroke="#55b8a8" stroke-width="0.75" fill="none"/>
<path d="M170.90 446.3L175.30 449.5V456.6H166.50V449.5Z" fill="#181c27" stroke="#1a7566" stroke-width="1.1" stroke-linejoin="round"/><path d="M172.20 449.60H169.80V454.20H172.20M169.80 451.90H171.90" stroke="#55b8a8" stroke-width="0.75" fill="none"/>
<path d="M211.90 446.3L216.30 449.5V456.6H207.50V449.5Z" fill="#181c27" stroke="#1a7566" stroke-width="1.1" stroke-linejoin="round"/><path d="M213.20 449.60H210.80V454.20H213.20M210.80 451.90H212.90" stroke="#55b8a8" stroke-width="0.75" fill="none"/>
<path d="M229.40 446.3L233.80 449.5V456.6H225.00V449.5Z" fill="#181c27" stroke="#1a7566" stroke-width="1.1" stroke-linejoin="round"/><path d="M230.70 449.60H228.30V454.20H230.70M228.30 451.90H230.40" stroke="#55b8a8" stroke-width="0.75" fill="none"/>
<path d="M246.00 446.3L250.40 449.5V456.6H241.60V449.5Z" fill="#181c27" stroke="#1a7566" stroke-width="1.1" stroke-linejoin="round"/><path d="M247.30 449.60H244.90V454.20H247.30M244.90 451.90H247.00" stroke="#55b8a8" stroke-width="0.75" fill="none"/>
<path d="M288.90 446.3L293.30 449.5V456.6H284.50V449.5Z" fill="#181c27" stroke="#1a7566" stroke-width="1.1" stroke-linejoin="round"/><path d="M290.20 449.60H287.80V454.20H290.20M287.80 451.90H289.90" stroke="#55b8a8" stroke-width="0.75" fill="none"/>
<path d="M305.10 446.3L309.50 449.5V456.6H300.70V449.5Z" fill="#181c27" stroke="#1a7566" stroke-width="1.1" stroke-linejoin="round"/><path d="M306.40 449.60H304.00V454.20H306.40M304.00 451.90H306.10" stroke="#55b8a8" stroke-width="0.75" fill="none"/>
<path d="M342.40 446.3L346.80 449.5V456.6H338.00V449.5Z" fill="#181c27" stroke="#1a7566" stroke-width="1.1" stroke-linejoin="round"/><path d="M343.70 449.60H341.30V454.20H343.70M341.30 451.90H343.40" stroke="#55b8a8" stroke-width="0.75" fill="none"/>
<path d="M380.90 446.3L385.30 449.5V456.6H376.50V449.5Z" fill="#181c27" stroke="#1a7566" stroke-width="1.1" stroke-linejoin="round"/><path d="M382.20 449.60H379.80V454.20H382.20M379.80 451.90H381.90" stroke="#55b8a8" stroke-width="0.75" fill="none"/>
<path d="M397.90 446.3L402.30 449.5V456.6H393.50V449.5Z" fill="#181c27" stroke="#1a7566" stroke-width="1.1" stroke-linejoin="round"/><path d="M399.20 449.60H396.80V454.20H399.20M396.80 451.90H398.90" stroke="#55b8a8" stroke-width="0.75" fill="none"/>
<path d="M419.90 446.3L424.30 449.5V456.6H415.50V449.5Z" fill="#181c27" stroke="#1a7566" stroke-width="1.1" stroke-linejoin="round"/><path d="M421.20 449.60H418.80V454.20H421.20M418.80 451.90H420.90" stroke="#55b8a8" stroke-width="0.75" fill="none"/>
<path d="M439.20 446.3L443.60 449.5V456.6H434.80V449.5Z" fill="#181c27" stroke="#1a7566" stroke-width="1.1" stroke-linejoin="round"/><path d="M440.50 449.60H438.10V454.20H440.50M438.10 451.90H440.20" stroke="#55b8a8" stroke-width="0.75" fill="none"/>
<path d="M455.75 446.3L460.15 449.5V456.6H451.35V449.5Z" fill="#181c27" stroke="#1a7566" stroke-width="1.1" stroke-linejoin="round"/><path d="M457.05 449.60H454.65V454.20H457.05M454.65 451.90H456.75" stroke="#55b8a8" stroke-width="0.75" fill="none"/>
<path d="M476.75 446.3L481.15 449.5V456.6H472.35V449.5Z" fill="#181c27" stroke="#1a7566" stroke-width="1.1" stroke-linejoin="round"/><path d="M478.05 449.60H475.65V454.20H478.05M475.65 451.90H477.75" stroke="#55b8a8" stroke-width="0.75" fill="none"/>
<path d="M497.20 446.3L501.60 449.5V456.6H492.80V449.5Z" fill="#181c27" stroke="#1a7566" stroke-width="1.1" stroke-linejoin="round"/><path d="M498.50 449.60H496.10V454.20H498.50M496.10 451.90H498.20" stroke="#55b8a8" stroke-width="0.75" fill="none"/>
<path d="M515.60 446.3L520.00 449.5V456.6H511.20V449.5Z" fill="#181c27" stroke="#1a7566" stroke-width="1.1" stroke-linejoin="round"/><path d="M516.90 449.60H514.50V454.20H516.90M514.50 451.90H516.60" stroke="#55b8a8" stroke-width="0.75" fill="none"/>
<path d="M531.90 446.3L536.30 449.5V456.6H527.50V449.5Z" fill="#181c27" stroke="#1a7566" stroke-width="1.1" stroke-linejoin="round"/><path d="M533.20 449.60H530.80V454.20H533.20M530.80 451.90H532.90" stroke="#55b8a8" stroke-width="0.75" fill="none"/>
<path d="M549.40 446.3L553.80 449.5V456.6H545.00V449.5Z" fill="#181c27" stroke="#1a7566" stroke-width="1.1" stroke-linejoin="round"/><path d="M550.70 449.60H548.30V454.20H550.70M548.30 451.90H550.40" stroke="#55b8a8" stroke-width="0.75" fill="none"/>
<path d="M587.10 446.3L591.50 449.5V456.6H582.70V449.5Z" fill="#181c27" stroke="#1a7566" stroke-width="1.1" stroke-linejoin="round"/><path d="M588.40 449.60H586.00V454.20H588.40M586.00 451.90H588.10" stroke="#55b8a8" stroke-width="0.75" fill="none"/>
<path d="M630.00 446.3L634.40 449.5V456.6H625.60V449.5Z" fill="#181c27" stroke="#1a7566" stroke-width="1.1" stroke-linejoin="round"/><path d="M631.30 449.60H628.90V454.20H631.30M628.90 451.90H631.00" stroke="#55b8a8" stroke-width="0.75" fill="none"/>
<path d="M187.00 446.6H195.80V453.6L191.40 456.8L187.00 453.6Z" fill="#181c27" stroke="#ad3843" stroke-width="1.1" stroke-linejoin="round"/><path d="M192.70 449.00H190.30V453.60H192.70M190.30 451.30H192.40" stroke="#ec8f97" stroke-width="0.75" fill="none"/>
<path d="M265.40 446.6H274.20V453.6L269.80 456.8L265.40 453.6Z" fill="#181c27" stroke="#ad3843" stroke-width="1.1" stroke-linejoin="round"/><path d="M271.10 449.00H268.70V453.60H271.10M268.70 451.30H270.80" stroke="#ec8f97" stroke-width="0.75" fill="none"/>
<path d="M318.40 446.6H327.20V453.6L322.80 456.8L318.40 453.6Z" fill="#181c27" stroke="#ad3843" stroke-width="1.1" stroke-linejoin="round"/><path d="M324.10 449.00H321.70V453.60H324.10M321.70 451.30H323.80" stroke="#ec8f97" stroke-width="0.75" fill="none"/>
<path d="M361.30 446.6H370.10V453.6L365.70 456.8L361.30 453.6Z" fill="#181c27" stroke="#ad3843" stroke-width="1.1" stroke-linejoin="round"/><path d="M367.00 449.00H364.60V453.60H367.00M364.60 451.30H366.70" stroke="#ec8f97" stroke-width="0.75" fill="none"/>
<path d="M566.20 446.6H575.00V453.6L570.60 456.8L566.20 453.6Z" fill="#181c27" stroke="#ad3843" stroke-width="1.1" stroke-linejoin="round"/><path d="M571.90 449.00H569.50V453.60H571.90M569.50 451.30H571.60" stroke="#ec8f97" stroke-width="0.75" fill="none"/>
<path d="M605.80 446.6H614.60V453.6L610.20 456.8L605.80 453.6Z" fill="#181c27" stroke="#ad3843" stroke-width="1.1" stroke-linejoin="round"/><path d="M611.50 449.00H609.10V453.60H611.50M609.10 451.30H611.20" stroke="#ec8f97" stroke-width="0.75" fill="none"/>
<rect x="640.60" y="447" width="8.6" height="9.4" rx="1" fill="#181c27" stroke="#d01f78" stroke-width="1.15"/>
<path d="M646.20 449.40H643.80V454.00H646.20M643.80 451.70H645.90" stroke="#e0408f" stroke-width="0.75" fill="none"/></svg>
</body></html>
